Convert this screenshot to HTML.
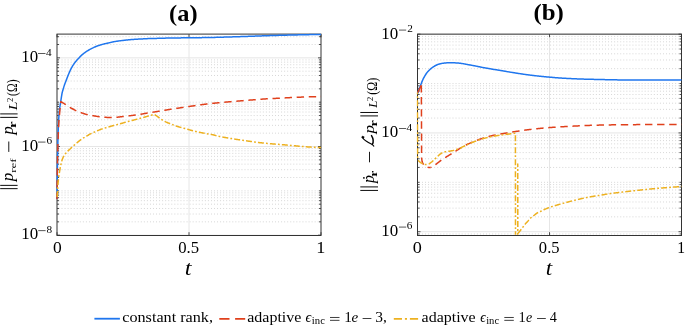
<!DOCTYPE html>
<html><head><meta charset="utf-8"><style>html,body{margin:0;padding:0;background:#fff;overflow:hidden}svg{display:block;will-change:transform}text{font-family:"Liberation Serif",serif;fill:#000}</style></head>
<body>
<svg width="685" height="325" viewBox="0 0 685 325">
<defs>
<clipPath id="ca"><rect x="56.0" y="33.3" width="266.0" height="202.89999999999998"/></clipPath>
<clipPath id="cb"><rect x="416.5" y="33.2" width="266.0" height="201.5"/></clipPath>
</defs>
<rect width="685" height="325" fill="#fff"/>
<line x1="57" y1="235.17" x2="321" y2="235.17" stroke="#e6e6e6" stroke-width="1"/>
<line x1="58.5" y1="221.83" x2="321" y2="221.83" stroke="#c8c8c8" stroke-width="0.8" stroke-dasharray="0.9 2.15"/>
<line x1="58.5" y1="214.02" x2="321" y2="214.02" stroke="#c8c8c8" stroke-width="0.8" stroke-dasharray="0.9 2.15"/>
<line x1="58.5" y1="208.48" x2="321" y2="208.48" stroke="#c8c8c8" stroke-width="0.8" stroke-dasharray="0.9 2.15"/>
<line x1="58.5" y1="204.18" x2="321" y2="204.18" stroke="#c8c8c8" stroke-width="0.8" stroke-dasharray="0.9 2.15"/>
<line x1="58.5" y1="200.67" x2="321" y2="200.67" stroke="#c8c8c8" stroke-width="0.8" stroke-dasharray="0.9 2.15"/>
<line x1="58.5" y1="197.71" x2="321" y2="197.71" stroke="#c8c8c8" stroke-width="0.8" stroke-dasharray="0.9 2.15"/>
<line x1="58.5" y1="195.14" x2="321" y2="195.14" stroke="#c8c8c8" stroke-width="0.8" stroke-dasharray="0.9 2.15"/>
<line x1="58.5" y1="192.87" x2="321" y2="192.87" stroke="#c8c8c8" stroke-width="0.8" stroke-dasharray="0.9 2.15"/>
<line x1="58.5" y1="190.84" x2="321" y2="190.84" stroke="#c8c8c8" stroke-width="0.8" stroke-dasharray="0.9 2.15"/>
<line x1="58.5" y1="177.5" x2="321" y2="177.5" stroke="#c8c8c8" stroke-width="0.8" stroke-dasharray="0.9 2.15"/>
<line x1="58.5" y1="169.69" x2="321" y2="169.69" stroke="#c8c8c8" stroke-width="0.8" stroke-dasharray="0.9 2.15"/>
<line x1="58.5" y1="164.15" x2="321" y2="164.15" stroke="#c8c8c8" stroke-width="0.8" stroke-dasharray="0.9 2.15"/>
<line x1="58.5" y1="159.85" x2="321" y2="159.85" stroke="#c8c8c8" stroke-width="0.8" stroke-dasharray="0.9 2.15"/>
<line x1="58.5" y1="156.34" x2="321" y2="156.34" stroke="#c8c8c8" stroke-width="0.8" stroke-dasharray="0.9 2.15"/>
<line x1="58.5" y1="153.38" x2="321" y2="153.38" stroke="#c8c8c8" stroke-width="0.8" stroke-dasharray="0.9 2.15"/>
<line x1="58.5" y1="150.81" x2="321" y2="150.81" stroke="#c8c8c8" stroke-width="0.8" stroke-dasharray="0.9 2.15"/>
<line x1="58.5" y1="148.54" x2="321" y2="148.54" stroke="#c8c8c8" stroke-width="0.8" stroke-dasharray="0.9 2.15"/>
<line x1="57" y1="146.51" x2="321" y2="146.51" stroke="#e6e6e6" stroke-width="1"/>
<line x1="58.5" y1="133.17" x2="321" y2="133.17" stroke="#c8c8c8" stroke-width="0.8" stroke-dasharray="0.9 2.15"/>
<line x1="58.5" y1="125.36" x2="321" y2="125.36" stroke="#c8c8c8" stroke-width="0.8" stroke-dasharray="0.9 2.15"/>
<line x1="58.5" y1="119.82" x2="321" y2="119.82" stroke="#c8c8c8" stroke-width="0.8" stroke-dasharray="0.9 2.15"/>
<line x1="58.5" y1="115.52" x2="321" y2="115.52" stroke="#c8c8c8" stroke-width="0.8" stroke-dasharray="0.9 2.15"/>
<line x1="58.5" y1="112.01" x2="321" y2="112.01" stroke="#c8c8c8" stroke-width="0.8" stroke-dasharray="0.9 2.15"/>
<line x1="58.5" y1="109.05" x2="321" y2="109.05" stroke="#c8c8c8" stroke-width="0.8" stroke-dasharray="0.9 2.15"/>
<line x1="58.5" y1="106.48" x2="321" y2="106.48" stroke="#c8c8c8" stroke-width="0.8" stroke-dasharray="0.9 2.15"/>
<line x1="58.5" y1="104.21" x2="321" y2="104.21" stroke="#c8c8c8" stroke-width="0.8" stroke-dasharray="0.9 2.15"/>
<line x1="58.5" y1="102.18" x2="321" y2="102.18" stroke="#c8c8c8" stroke-width="0.8" stroke-dasharray="0.9 2.15"/>
<line x1="58.5" y1="88.84" x2="321" y2="88.84" stroke="#c8c8c8" stroke-width="0.8" stroke-dasharray="0.9 2.15"/>
<line x1="58.5" y1="81.03" x2="321" y2="81.03" stroke="#c8c8c8" stroke-width="0.8" stroke-dasharray="0.9 2.15"/>
<line x1="58.5" y1="75.49" x2="321" y2="75.49" stroke="#c8c8c8" stroke-width="0.8" stroke-dasharray="0.9 2.15"/>
<line x1="58.5" y1="71.19" x2="321" y2="71.19" stroke="#c8c8c8" stroke-width="0.8" stroke-dasharray="0.9 2.15"/>
<line x1="58.5" y1="67.68" x2="321" y2="67.68" stroke="#c8c8c8" stroke-width="0.8" stroke-dasharray="0.9 2.15"/>
<line x1="58.5" y1="64.72" x2="321" y2="64.72" stroke="#c8c8c8" stroke-width="0.8" stroke-dasharray="0.9 2.15"/>
<line x1="58.5" y1="62.15" x2="321" y2="62.15" stroke="#c8c8c8" stroke-width="0.8" stroke-dasharray="0.9 2.15"/>
<line x1="58.5" y1="59.88" x2="321" y2="59.88" stroke="#c8c8c8" stroke-width="0.8" stroke-dasharray="0.9 2.15"/>
<line x1="57" y1="57.85" x2="321" y2="57.85" stroke="#e6e6e6" stroke-width="1"/>
<line x1="58.5" y1="44.51" x2="321" y2="44.51" stroke="#c8c8c8" stroke-width="0.8" stroke-dasharray="0.9 2.15"/>
<line x1="58.5" y1="36.7" x2="321" y2="36.7" stroke="#c8c8c8" stroke-width="0.8" stroke-dasharray="0.9 2.15"/>
<line x1="189" y1="34.3" x2="189" y2="235.2" stroke="#e6e6e6" stroke-width="1"/>
<line x1="57" y1="235.17" x2="60" y2="235.17" stroke="#262626" stroke-width="0.8"/>
<line x1="321" y1="235.17" x2="318" y2="235.17" stroke="#262626" stroke-width="0.8"/>
<line x1="57" y1="221.83" x2="59" y2="221.83" stroke="#262626" stroke-width="0.8"/>
<line x1="321" y1="221.83" x2="319" y2="221.83" stroke="#262626" stroke-width="0.8"/>
<line x1="57" y1="214.02" x2="59" y2="214.02" stroke="#262626" stroke-width="0.8"/>
<line x1="321" y1="214.02" x2="319" y2="214.02" stroke="#262626" stroke-width="0.8"/>
<line x1="57" y1="208.48" x2="59" y2="208.48" stroke="#262626" stroke-width="0.8"/>
<line x1="321" y1="208.48" x2="319" y2="208.48" stroke="#262626" stroke-width="0.8"/>
<line x1="57" y1="204.18" x2="59" y2="204.18" stroke="#262626" stroke-width="0.8"/>
<line x1="321" y1="204.18" x2="319" y2="204.18" stroke="#262626" stroke-width="0.8"/>
<line x1="57" y1="200.67" x2="59" y2="200.67" stroke="#262626" stroke-width="0.8"/>
<line x1="321" y1="200.67" x2="319" y2="200.67" stroke="#262626" stroke-width="0.8"/>
<line x1="57" y1="197.71" x2="59" y2="197.71" stroke="#262626" stroke-width="0.8"/>
<line x1="321" y1="197.71" x2="319" y2="197.71" stroke="#262626" stroke-width="0.8"/>
<line x1="57" y1="195.14" x2="59" y2="195.14" stroke="#262626" stroke-width="0.8"/>
<line x1="321" y1="195.14" x2="319" y2="195.14" stroke="#262626" stroke-width="0.8"/>
<line x1="57" y1="192.87" x2="59" y2="192.87" stroke="#262626" stroke-width="0.8"/>
<line x1="321" y1="192.87" x2="319" y2="192.87" stroke="#262626" stroke-width="0.8"/>
<line x1="57" y1="190.84" x2="59" y2="190.84" stroke="#262626" stroke-width="0.8"/>
<line x1="321" y1="190.84" x2="319" y2="190.84" stroke="#262626" stroke-width="0.8"/>
<line x1="57" y1="177.5" x2="59" y2="177.5" stroke="#262626" stroke-width="0.8"/>
<line x1="321" y1="177.5" x2="319" y2="177.5" stroke="#262626" stroke-width="0.8"/>
<line x1="57" y1="169.69" x2="59" y2="169.69" stroke="#262626" stroke-width="0.8"/>
<line x1="321" y1="169.69" x2="319" y2="169.69" stroke="#262626" stroke-width="0.8"/>
<line x1="57" y1="164.15" x2="59" y2="164.15" stroke="#262626" stroke-width="0.8"/>
<line x1="321" y1="164.15" x2="319" y2="164.15" stroke="#262626" stroke-width="0.8"/>
<line x1="57" y1="159.85" x2="59" y2="159.85" stroke="#262626" stroke-width="0.8"/>
<line x1="321" y1="159.85" x2="319" y2="159.85" stroke="#262626" stroke-width="0.8"/>
<line x1="57" y1="156.34" x2="59" y2="156.34" stroke="#262626" stroke-width="0.8"/>
<line x1="321" y1="156.34" x2="319" y2="156.34" stroke="#262626" stroke-width="0.8"/>
<line x1="57" y1="153.38" x2="59" y2="153.38" stroke="#262626" stroke-width="0.8"/>
<line x1="321" y1="153.38" x2="319" y2="153.38" stroke="#262626" stroke-width="0.8"/>
<line x1="57" y1="150.81" x2="59" y2="150.81" stroke="#262626" stroke-width="0.8"/>
<line x1="321" y1="150.81" x2="319" y2="150.81" stroke="#262626" stroke-width="0.8"/>
<line x1="57" y1="148.54" x2="59" y2="148.54" stroke="#262626" stroke-width="0.8"/>
<line x1="321" y1="148.54" x2="319" y2="148.54" stroke="#262626" stroke-width="0.8"/>
<line x1="57" y1="146.51" x2="60" y2="146.51" stroke="#262626" stroke-width="0.8"/>
<line x1="321" y1="146.51" x2="318" y2="146.51" stroke="#262626" stroke-width="0.8"/>
<line x1="57" y1="133.17" x2="59" y2="133.17" stroke="#262626" stroke-width="0.8"/>
<line x1="321" y1="133.17" x2="319" y2="133.17" stroke="#262626" stroke-width="0.8"/>
<line x1="57" y1="125.36" x2="59" y2="125.36" stroke="#262626" stroke-width="0.8"/>
<line x1="321" y1="125.36" x2="319" y2="125.36" stroke="#262626" stroke-width="0.8"/>
<line x1="57" y1="119.82" x2="59" y2="119.82" stroke="#262626" stroke-width="0.8"/>
<line x1="321" y1="119.82" x2="319" y2="119.82" stroke="#262626" stroke-width="0.8"/>
<line x1="57" y1="115.52" x2="59" y2="115.52" stroke="#262626" stroke-width="0.8"/>
<line x1="321" y1="115.52" x2="319" y2="115.52" stroke="#262626" stroke-width="0.8"/>
<line x1="57" y1="112.01" x2="59" y2="112.01" stroke="#262626" stroke-width="0.8"/>
<line x1="321" y1="112.01" x2="319" y2="112.01" stroke="#262626" stroke-width="0.8"/>
<line x1="57" y1="109.05" x2="59" y2="109.05" stroke="#262626" stroke-width="0.8"/>
<line x1="321" y1="109.05" x2="319" y2="109.05" stroke="#262626" stroke-width="0.8"/>
<line x1="57" y1="106.48" x2="59" y2="106.48" stroke="#262626" stroke-width="0.8"/>
<line x1="321" y1="106.48" x2="319" y2="106.48" stroke="#262626" stroke-width="0.8"/>
<line x1="57" y1="104.21" x2="59" y2="104.21" stroke="#262626" stroke-width="0.8"/>
<line x1="321" y1="104.21" x2="319" y2="104.21" stroke="#262626" stroke-width="0.8"/>
<line x1="57" y1="102.18" x2="59" y2="102.18" stroke="#262626" stroke-width="0.8"/>
<line x1="321" y1="102.18" x2="319" y2="102.18" stroke="#262626" stroke-width="0.8"/>
<line x1="57" y1="88.84" x2="59" y2="88.84" stroke="#262626" stroke-width="0.8"/>
<line x1="321" y1="88.84" x2="319" y2="88.84" stroke="#262626" stroke-width="0.8"/>
<line x1="57" y1="81.03" x2="59" y2="81.03" stroke="#262626" stroke-width="0.8"/>
<line x1="321" y1="81.03" x2="319" y2="81.03" stroke="#262626" stroke-width="0.8"/>
<line x1="57" y1="75.49" x2="59" y2="75.49" stroke="#262626" stroke-width="0.8"/>
<line x1="321" y1="75.49" x2="319" y2="75.49" stroke="#262626" stroke-width="0.8"/>
<line x1="57" y1="71.19" x2="59" y2="71.19" stroke="#262626" stroke-width="0.8"/>
<line x1="321" y1="71.19" x2="319" y2="71.19" stroke="#262626" stroke-width="0.8"/>
<line x1="57" y1="67.68" x2="59" y2="67.68" stroke="#262626" stroke-width="0.8"/>
<line x1="321" y1="67.68" x2="319" y2="67.68" stroke="#262626" stroke-width="0.8"/>
<line x1="57" y1="64.72" x2="59" y2="64.72" stroke="#262626" stroke-width="0.8"/>
<line x1="321" y1="64.72" x2="319" y2="64.72" stroke="#262626" stroke-width="0.8"/>
<line x1="57" y1="62.15" x2="59" y2="62.15" stroke="#262626" stroke-width="0.8"/>
<line x1="321" y1="62.15" x2="319" y2="62.15" stroke="#262626" stroke-width="0.8"/>
<line x1="57" y1="59.88" x2="59" y2="59.88" stroke="#262626" stroke-width="0.8"/>
<line x1="321" y1="59.88" x2="319" y2="59.88" stroke="#262626" stroke-width="0.8"/>
<line x1="57" y1="57.85" x2="60" y2="57.85" stroke="#262626" stroke-width="0.8"/>
<line x1="321" y1="57.85" x2="318" y2="57.85" stroke="#262626" stroke-width="0.8"/>
<line x1="57" y1="44.51" x2="59" y2="44.51" stroke="#262626" stroke-width="0.8"/>
<line x1="321" y1="44.51" x2="319" y2="44.51" stroke="#262626" stroke-width="0.8"/>
<line x1="57" y1="36.7" x2="59" y2="36.7" stroke="#262626" stroke-width="0.8"/>
<line x1="321" y1="36.7" x2="319" y2="36.7" stroke="#262626" stroke-width="0.8"/>
<line x1="57" y1="235.2" x2="57" y2="232.2" stroke="#262626" stroke-width="0.8"/>
<line x1="57" y1="34.3" x2="57" y2="37.3" stroke="#262626" stroke-width="0.8"/>
<line x1="189" y1="235.2" x2="189" y2="232.2" stroke="#262626" stroke-width="0.8"/>
<line x1="189" y1="34.3" x2="189" y2="37.3" stroke="#262626" stroke-width="0.8"/>
<line x1="321" y1="235.2" x2="321" y2="232.2" stroke="#262626" stroke-width="0.8"/>
<line x1="321" y1="34.3" x2="321" y2="37.3" stroke="#262626" stroke-width="0.8"/>
<rect x="57" y="34.1" width="264" height="201.4" fill="none" stroke="#333" stroke-width="1"/>
<line x1="419" y1="233.97" x2="681.5" y2="233.97" stroke="#c8c8c8" stroke-width="0.8" stroke-dasharray="0.9 2.15"/>
<line x1="417.5" y1="231.71" x2="681.5" y2="231.71" stroke="#e6e6e6" stroke-width="1"/>
<line x1="419" y1="216.84" x2="681.5" y2="216.84" stroke="#c8c8c8" stroke-width="0.8" stroke-dasharray="0.9 2.15"/>
<line x1="419" y1="208.14" x2="681.5" y2="208.14" stroke="#c8c8c8" stroke-width="0.8" stroke-dasharray="0.9 2.15"/>
<line x1="419" y1="201.97" x2="681.5" y2="201.97" stroke="#c8c8c8" stroke-width="0.8" stroke-dasharray="0.9 2.15"/>
<line x1="419" y1="197.19" x2="681.5" y2="197.19" stroke="#c8c8c8" stroke-width="0.8" stroke-dasharray="0.9 2.15"/>
<line x1="419" y1="193.28" x2="681.5" y2="193.28" stroke="#c8c8c8" stroke-width="0.8" stroke-dasharray="0.9 2.15"/>
<line x1="419" y1="189.97" x2="681.5" y2="189.97" stroke="#c8c8c8" stroke-width="0.8" stroke-dasharray="0.9 2.15"/>
<line x1="419" y1="187.11" x2="681.5" y2="187.11" stroke="#c8c8c8" stroke-width="0.8" stroke-dasharray="0.9 2.15"/>
<line x1="419" y1="184.58" x2="681.5" y2="184.58" stroke="#c8c8c8" stroke-width="0.8" stroke-dasharray="0.9 2.15"/>
<line x1="419" y1="182.32" x2="681.5" y2="182.32" stroke="#c8c8c8" stroke-width="0.8" stroke-dasharray="0.9 2.15"/>
<line x1="419" y1="167.45" x2="681.5" y2="167.45" stroke="#c8c8c8" stroke-width="0.8" stroke-dasharray="0.9 2.15"/>
<line x1="419" y1="158.75" x2="681.5" y2="158.75" stroke="#c8c8c8" stroke-width="0.8" stroke-dasharray="0.9 2.15"/>
<line x1="419" y1="152.58" x2="681.5" y2="152.58" stroke="#c8c8c8" stroke-width="0.8" stroke-dasharray="0.9 2.15"/>
<line x1="419" y1="147.8" x2="681.5" y2="147.8" stroke="#c8c8c8" stroke-width="0.8" stroke-dasharray="0.9 2.15"/>
<line x1="419" y1="143.89" x2="681.5" y2="143.89" stroke="#c8c8c8" stroke-width="0.8" stroke-dasharray="0.9 2.15"/>
<line x1="419" y1="140.58" x2="681.5" y2="140.58" stroke="#c8c8c8" stroke-width="0.8" stroke-dasharray="0.9 2.15"/>
<line x1="419" y1="137.72" x2="681.5" y2="137.72" stroke="#c8c8c8" stroke-width="0.8" stroke-dasharray="0.9 2.15"/>
<line x1="419" y1="135.19" x2="681.5" y2="135.19" stroke="#c8c8c8" stroke-width="0.8" stroke-dasharray="0.9 2.15"/>
<line x1="417.5" y1="132.93" x2="681.5" y2="132.93" stroke="#e6e6e6" stroke-width="1"/>
<line x1="419" y1="118.06" x2="681.5" y2="118.06" stroke="#c8c8c8" stroke-width="0.8" stroke-dasharray="0.9 2.15"/>
<line x1="419" y1="109.36" x2="681.5" y2="109.36" stroke="#c8c8c8" stroke-width="0.8" stroke-dasharray="0.9 2.15"/>
<line x1="419" y1="103.19" x2="681.5" y2="103.19" stroke="#c8c8c8" stroke-width="0.8" stroke-dasharray="0.9 2.15"/>
<line x1="419" y1="98.41" x2="681.5" y2="98.41" stroke="#c8c8c8" stroke-width="0.8" stroke-dasharray="0.9 2.15"/>
<line x1="419" y1="94.5" x2="681.5" y2="94.5" stroke="#c8c8c8" stroke-width="0.8" stroke-dasharray="0.9 2.15"/>
<line x1="419" y1="91.19" x2="681.5" y2="91.19" stroke="#c8c8c8" stroke-width="0.8" stroke-dasharray="0.9 2.15"/>
<line x1="419" y1="88.33" x2="681.5" y2="88.33" stroke="#c8c8c8" stroke-width="0.8" stroke-dasharray="0.9 2.15"/>
<line x1="419" y1="85.8" x2="681.5" y2="85.8" stroke="#c8c8c8" stroke-width="0.8" stroke-dasharray="0.9 2.15"/>
<line x1="419" y1="83.54" x2="681.5" y2="83.54" stroke="#c8c8c8" stroke-width="0.8" stroke-dasharray="0.9 2.15"/>
<line x1="419" y1="68.67" x2="681.5" y2="68.67" stroke="#c8c8c8" stroke-width="0.8" stroke-dasharray="0.9 2.15"/>
<line x1="419" y1="59.97" x2="681.5" y2="59.97" stroke="#c8c8c8" stroke-width="0.8" stroke-dasharray="0.9 2.15"/>
<line x1="419" y1="53.8" x2="681.5" y2="53.8" stroke="#c8c8c8" stroke-width="0.8" stroke-dasharray="0.9 2.15"/>
<line x1="419" y1="49.02" x2="681.5" y2="49.02" stroke="#c8c8c8" stroke-width="0.8" stroke-dasharray="0.9 2.15"/>
<line x1="419" y1="45.11" x2="681.5" y2="45.11" stroke="#c8c8c8" stroke-width="0.8" stroke-dasharray="0.9 2.15"/>
<line x1="419" y1="41.8" x2="681.5" y2="41.8" stroke="#c8c8c8" stroke-width="0.8" stroke-dasharray="0.9 2.15"/>
<line x1="419" y1="38.94" x2="681.5" y2="38.94" stroke="#c8c8c8" stroke-width="0.8" stroke-dasharray="0.9 2.15"/>
<line x1="419" y1="36.41" x2="681.5" y2="36.41" stroke="#c8c8c8" stroke-width="0.8" stroke-dasharray="0.9 2.15"/>
<line x1="417.5" y1="34.15" x2="681.5" y2="34.15" stroke="#e6e6e6" stroke-width="1"/>
<line x1="549.5" y1="34.2" x2="549.5" y2="235.2" stroke="#e6e6e6" stroke-width="1"/>
<line x1="417.5" y1="233.97" x2="419.5" y2="233.97" stroke="#262626" stroke-width="0.8"/>
<line x1="681.5" y1="233.97" x2="679.5" y2="233.97" stroke="#262626" stroke-width="0.8"/>
<line x1="417.5" y1="231.71" x2="420.5" y2="231.71" stroke="#262626" stroke-width="0.8"/>
<line x1="681.5" y1="231.71" x2="678.5" y2="231.71" stroke="#262626" stroke-width="0.8"/>
<line x1="417.5" y1="216.84" x2="419.5" y2="216.84" stroke="#262626" stroke-width="0.8"/>
<line x1="681.5" y1="216.84" x2="679.5" y2="216.84" stroke="#262626" stroke-width="0.8"/>
<line x1="417.5" y1="208.14" x2="419.5" y2="208.14" stroke="#262626" stroke-width="0.8"/>
<line x1="681.5" y1="208.14" x2="679.5" y2="208.14" stroke="#262626" stroke-width="0.8"/>
<line x1="417.5" y1="201.97" x2="419.5" y2="201.97" stroke="#262626" stroke-width="0.8"/>
<line x1="681.5" y1="201.97" x2="679.5" y2="201.97" stroke="#262626" stroke-width="0.8"/>
<line x1="417.5" y1="197.19" x2="419.5" y2="197.19" stroke="#262626" stroke-width="0.8"/>
<line x1="681.5" y1="197.19" x2="679.5" y2="197.19" stroke="#262626" stroke-width="0.8"/>
<line x1="417.5" y1="193.28" x2="419.5" y2="193.28" stroke="#262626" stroke-width="0.8"/>
<line x1="681.5" y1="193.28" x2="679.5" y2="193.28" stroke="#262626" stroke-width="0.8"/>
<line x1="417.5" y1="189.97" x2="419.5" y2="189.97" stroke="#262626" stroke-width="0.8"/>
<line x1="681.5" y1="189.97" x2="679.5" y2="189.97" stroke="#262626" stroke-width="0.8"/>
<line x1="417.5" y1="187.11" x2="419.5" y2="187.11" stroke="#262626" stroke-width="0.8"/>
<line x1="681.5" y1="187.11" x2="679.5" y2="187.11" stroke="#262626" stroke-width="0.8"/>
<line x1="417.5" y1="184.58" x2="419.5" y2="184.58" stroke="#262626" stroke-width="0.8"/>
<line x1="681.5" y1="184.58" x2="679.5" y2="184.58" stroke="#262626" stroke-width="0.8"/>
<line x1="417.5" y1="182.32" x2="419.5" y2="182.32" stroke="#262626" stroke-width="0.8"/>
<line x1="681.5" y1="182.32" x2="679.5" y2="182.32" stroke="#262626" stroke-width="0.8"/>
<line x1="417.5" y1="167.45" x2="419.5" y2="167.45" stroke="#262626" stroke-width="0.8"/>
<line x1="681.5" y1="167.45" x2="679.5" y2="167.45" stroke="#262626" stroke-width="0.8"/>
<line x1="417.5" y1="158.75" x2="419.5" y2="158.75" stroke="#262626" stroke-width="0.8"/>
<line x1="681.5" y1="158.75" x2="679.5" y2="158.75" stroke="#262626" stroke-width="0.8"/>
<line x1="417.5" y1="152.58" x2="419.5" y2="152.58" stroke="#262626" stroke-width="0.8"/>
<line x1="681.5" y1="152.58" x2="679.5" y2="152.58" stroke="#262626" stroke-width="0.8"/>
<line x1="417.5" y1="147.8" x2="419.5" y2="147.8" stroke="#262626" stroke-width="0.8"/>
<line x1="681.5" y1="147.8" x2="679.5" y2="147.8" stroke="#262626" stroke-width="0.8"/>
<line x1="417.5" y1="143.89" x2="419.5" y2="143.89" stroke="#262626" stroke-width="0.8"/>
<line x1="681.5" y1="143.89" x2="679.5" y2="143.89" stroke="#262626" stroke-width="0.8"/>
<line x1="417.5" y1="140.58" x2="419.5" y2="140.58" stroke="#262626" stroke-width="0.8"/>
<line x1="681.5" y1="140.58" x2="679.5" y2="140.58" stroke="#262626" stroke-width="0.8"/>
<line x1="417.5" y1="137.72" x2="419.5" y2="137.72" stroke="#262626" stroke-width="0.8"/>
<line x1="681.5" y1="137.72" x2="679.5" y2="137.72" stroke="#262626" stroke-width="0.8"/>
<line x1="417.5" y1="135.19" x2="419.5" y2="135.19" stroke="#262626" stroke-width="0.8"/>
<line x1="681.5" y1="135.19" x2="679.5" y2="135.19" stroke="#262626" stroke-width="0.8"/>
<line x1="417.5" y1="132.93" x2="420.5" y2="132.93" stroke="#262626" stroke-width="0.8"/>
<line x1="681.5" y1="132.93" x2="678.5" y2="132.93" stroke="#262626" stroke-width="0.8"/>
<line x1="417.5" y1="118.06" x2="419.5" y2="118.06" stroke="#262626" stroke-width="0.8"/>
<line x1="681.5" y1="118.06" x2="679.5" y2="118.06" stroke="#262626" stroke-width="0.8"/>
<line x1="417.5" y1="109.36" x2="419.5" y2="109.36" stroke="#262626" stroke-width="0.8"/>
<line x1="681.5" y1="109.36" x2="679.5" y2="109.36" stroke="#262626" stroke-width="0.8"/>
<line x1="417.5" y1="103.19" x2="419.5" y2="103.19" stroke="#262626" stroke-width="0.8"/>
<line x1="681.5" y1="103.19" x2="679.5" y2="103.19" stroke="#262626" stroke-width="0.8"/>
<line x1="417.5" y1="98.41" x2="419.5" y2="98.41" stroke="#262626" stroke-width="0.8"/>
<line x1="681.5" y1="98.41" x2="679.5" y2="98.41" stroke="#262626" stroke-width="0.8"/>
<line x1="417.5" y1="94.5" x2="419.5" y2="94.5" stroke="#262626" stroke-width="0.8"/>
<line x1="681.5" y1="94.5" x2="679.5" y2="94.5" stroke="#262626" stroke-width="0.8"/>
<line x1="417.5" y1="91.19" x2="419.5" y2="91.19" stroke="#262626" stroke-width="0.8"/>
<line x1="681.5" y1="91.19" x2="679.5" y2="91.19" stroke="#262626" stroke-width="0.8"/>
<line x1="417.5" y1="88.33" x2="419.5" y2="88.33" stroke="#262626" stroke-width="0.8"/>
<line x1="681.5" y1="88.33" x2="679.5" y2="88.33" stroke="#262626" stroke-width="0.8"/>
<line x1="417.5" y1="85.8" x2="419.5" y2="85.8" stroke="#262626" stroke-width="0.8"/>
<line x1="681.5" y1="85.8" x2="679.5" y2="85.8" stroke="#262626" stroke-width="0.8"/>
<line x1="417.5" y1="83.54" x2="419.5" y2="83.54" stroke="#262626" stroke-width="0.8"/>
<line x1="681.5" y1="83.54" x2="679.5" y2="83.54" stroke="#262626" stroke-width="0.8"/>
<line x1="417.5" y1="68.67" x2="419.5" y2="68.67" stroke="#262626" stroke-width="0.8"/>
<line x1="681.5" y1="68.67" x2="679.5" y2="68.67" stroke="#262626" stroke-width="0.8"/>
<line x1="417.5" y1="59.97" x2="419.5" y2="59.97" stroke="#262626" stroke-width="0.8"/>
<line x1="681.5" y1="59.97" x2="679.5" y2="59.97" stroke="#262626" stroke-width="0.8"/>
<line x1="417.5" y1="53.8" x2="419.5" y2="53.8" stroke="#262626" stroke-width="0.8"/>
<line x1="681.5" y1="53.8" x2="679.5" y2="53.8" stroke="#262626" stroke-width="0.8"/>
<line x1="417.5" y1="49.02" x2="419.5" y2="49.02" stroke="#262626" stroke-width="0.8"/>
<line x1="681.5" y1="49.02" x2="679.5" y2="49.02" stroke="#262626" stroke-width="0.8"/>
<line x1="417.5" y1="45.11" x2="419.5" y2="45.11" stroke="#262626" stroke-width="0.8"/>
<line x1="681.5" y1="45.11" x2="679.5" y2="45.11" stroke="#262626" stroke-width="0.8"/>
<line x1="417.5" y1="41.8" x2="419.5" y2="41.8" stroke="#262626" stroke-width="0.8"/>
<line x1="681.5" y1="41.8" x2="679.5" y2="41.8" stroke="#262626" stroke-width="0.8"/>
<line x1="417.5" y1="38.94" x2="419.5" y2="38.94" stroke="#262626" stroke-width="0.8"/>
<line x1="681.5" y1="38.94" x2="679.5" y2="38.94" stroke="#262626" stroke-width="0.8"/>
<line x1="417.5" y1="36.41" x2="419.5" y2="36.41" stroke="#262626" stroke-width="0.8"/>
<line x1="681.5" y1="36.41" x2="679.5" y2="36.41" stroke="#262626" stroke-width="0.8"/>
<line x1="417.5" y1="34.15" x2="420.5" y2="34.15" stroke="#262626" stroke-width="0.8"/>
<line x1="681.5" y1="34.15" x2="678.5" y2="34.15" stroke="#262626" stroke-width="0.8"/>
<line x1="417.5" y1="235.2" x2="417.5" y2="232.2" stroke="#262626" stroke-width="0.8"/>
<line x1="417.5" y1="34.2" x2="417.5" y2="37.2" stroke="#262626" stroke-width="0.8"/>
<line x1="549.5" y1="235.2" x2="549.5" y2="232.2" stroke="#262626" stroke-width="0.8"/>
<line x1="549.5" y1="34.2" x2="549.5" y2="37.2" stroke="#262626" stroke-width="0.8"/>
<line x1="681.5" y1="235.2" x2="681.5" y2="232.2" stroke="#262626" stroke-width="0.8"/>
<line x1="681.5" y1="34.2" x2="681.5" y2="37.2" stroke="#262626" stroke-width="0.8"/>
<rect x="417.5" y="34.15" width="264" height="201.35" fill="none" stroke="#333" stroke-width="1"/>
<path d="M57 199 L57.5 159.49 L58 137.02 L58.5 121.65 L59 115.28 L59.5 109.66 L59.99 106.09 L60.49 103.03 L60.99 99.93 L61.49 96.61 L61.99 93.54 L62.49 91.45 L62.99 89.8 L63.49 88.1 L63.99 86.38 L64.49 84.87 L64.98 83.56 L65.48 82.31 L65.98 81.01 L66.48 79.63 L66.98 78.25 L67.48 76.91 L67.98 75.65 L68.48 74.42 L68.98 73.24 L69.48 72.1 L69.98 71 L70.47 69.93 L70.97 68.91 L71.47 67.95 L71.97 67.04 L72.47 66.17 L72.97 65.33 L73.47 64.55 L73.97 63.81 L74.47 63.12 L74.97 62.46 L75.47 61.83 L75.96 61.22 L76.46 60.65 L76.96 60.11 L77.46 59.58 L77.96 59.05 L78.46 58.51 L78.96 57.96 L79.46 57.41 L79.96 56.86 L80.46 56.34 L80.95 55.84 L81.45 55.37 L81.95 54.92 L82.45 54.48 L82.95 54.06 L83.45 53.65 L83.95 53.26 L84.45 52.88 L84.95 52.52 L85.45 52.17 L85.95 51.83 L86.44 51.49 L86.94 51.17 L87.44 50.86 L87.94 50.56 L88.44 50.26 L88.94 49.98 L89.44 49.7 L89.94 49.43 L90.44 49.16 L90.94 48.91 L91.43 48.67 L91.93 48.42 L92.43 48.18 L92.93 47.93 L93.43 47.69 L93.93 47.43 L94.43 47.18 L94.93 46.94 L95.43 46.72 L95.93 46.51 L96.43 46.31 L96.92 46.12 L97.42 45.94 L97.92 45.76 L98.42 45.59 L98.92 45.43 L99.42 45.27 L99.92 45.12 L100.42 44.97 L100.92 44.83 L101.42 44.68 L101.91 44.54 L102.41 44.39 L102.91 44.25 L103.41 44.11 L103.91 43.97 L104.41 43.85 L104.91 43.73 L105.41 43.62 L105.91 43.51 L106.41 43.41 L106.91 43.31 L107.4 43.21 L107.9 43.1 L108.4 42.98 L108.9 42.87 L109.4 42.74 L109.9 42.62 L110.4 42.49 L110.9 42.36 L111.4 42.24 L111.9 42.12 L112.4 42.01 L112.89 41.9 L113.39 41.8 L113.89 41.71 L114.39 41.62 L114.89 41.54 L115.39 41.45 L115.89 41.38 L116.39 41.3 L116.89 41.22 L117.39 41.15 L117.88 41.08 L118.38 41.01 L118.88 40.94 L119.38 40.88 L119.88 40.81 L120.38 40.74 L120.88 40.68 L121.38 40.62 L121.88 40.56 L122.38 40.5 L122.88 40.44 L123.37 40.38 L123.87 40.33 L124.37 40.27 L124.87 40.21 L125.37 40.16 L125.87 40.1 L126.37 40.05 L126.87 39.99 L127.37 39.94 L127.87 39.89 L128.36 39.84 L128.86 39.79 L129.36 39.74 L129.86 39.69 L130.36 39.65 L130.86 39.6 L131.36 39.56 L131.86 39.52 L132.36 39.49 L132.86 39.45 L133.36 39.41 L133.85 39.38 L134.35 39.35 L134.85 39.31 L135.35 39.28 L135.85 39.25 L136.35 39.22 L136.85 39.19 L137.35 39.16 L137.85 39.14 L138.35 39.11 L138.84 39.08 L139.34 39.06 L139.84 39.04 L140.34 39.01 L140.84 38.99 L141.34 38.96 L141.84 38.94 L142.34 38.91 L142.84 38.89 L143.34 38.86 L143.84 38.83 L144.33 38.8 L144.83 38.78 L145.33 38.75 L145.83 38.72 L146.33 38.69 L146.83 38.67 L147.33 38.64 L147.83 38.62 L148.33 38.6 L148.83 38.59 L149.33 38.57 L149.82 38.55 L150.32 38.54 L150.82 38.52 L151.32 38.51 L151.82 38.5 L152.32 38.48 L152.82 38.47 L153.32 38.46 L153.82 38.45 L154.32 38.44 L154.81 38.43 L155.31 38.41 L155.81 38.4 L156.31 38.39 L156.81 38.38 L157.31 38.37 L157.81 38.36 L158.31 38.35 L158.81 38.33 L159.31 38.32 L159.81 38.31 L160.3 38.29 L160.8 38.28 L161.3 38.26 L161.8 38.25 L162.3 38.23 L162.8 38.21 L163.3 38.2 L163.8 38.18 L164.3 38.16 L164.8 38.14 L165.29 38.13 L165.79 38.11 L166.29 38.09 L166.79 38.08 L167.29 38.06 L167.79 38.05 L168.29 38.04 L168.79 38.02 L169.29 38.01 L169.79 38 L170.29 38 L170.78 37.99 L171.28 37.98 L171.78 37.97 L172.28 37.97 L172.78 37.96 L173.28 37.95 L173.78 37.95 L174.28 37.94 L174.78 37.93 L175.28 37.93 L175.78 37.92 L176.27 37.92 L176.77 37.91 L177.27 37.91 L177.77 37.9 L178.27 37.9 L178.77 37.89 L179.27 37.89 L179.77 37.89 L180.27 37.88 L180.77 37.88 L181.26 37.87 L181.76 37.87 L182.26 37.86 L182.76 37.86 L183.26 37.86 L183.76 37.85 L184.26 37.85 L184.76 37.84 L185.26 37.84 L185.76 37.83 L186.26 37.83 L186.75 37.82 L187.25 37.82 L187.75 37.81 L188.25 37.81 L188.75 37.8 L189.25 37.79 L189.75 37.79 L190.25 37.78 L190.75 37.78 L191.25 37.77 L191.74 37.76 L192.24 37.76 L192.74 37.75 L193.24 37.74 L193.74 37.74 L194.24 37.73 L194.74 37.73 L195.24 37.72 L195.74 37.71 L196.24 37.71 L196.74 37.7 L197.23 37.69 L197.73 37.69 L198.23 37.68 L198.73 37.67 L199.23 37.67 L199.73 37.66 L200.23 37.65 L200.73 37.65 L201.23 37.64 L201.73 37.63 L202.22 37.62 L202.72 37.62 L203.22 37.61 L203.72 37.6 L204.22 37.59 L204.72 37.59 L205.22 37.58 L205.72 37.57 L206.22 37.56 L206.72 37.55 L207.22 37.54 L207.71 37.54 L208.21 37.53 L208.71 37.52 L209.21 37.51 L209.71 37.5 L210.21 37.49 L210.71 37.48 L211.21 37.47 L211.71 37.46 L212.21 37.45 L212.71 37.44 L213.2 37.43 L213.7 37.41 L214.2 37.4 L214.7 37.39 L215.2 37.38 L215.7 37.37 L216.2 37.35 L216.7 37.34 L217.2 37.33 L217.7 37.31 L218.19 37.3 L218.69 37.28 L219.19 37.27 L219.69 37.26 L220.19 37.24 L220.69 37.23 L221.19 37.21 L221.69 37.2 L222.19 37.18 L222.69 37.17 L223.19 37.15 L223.68 37.14 L224.18 37.12 L224.68 37.11 L225.18 37.1 L225.68 37.08 L226.18 37.07 L226.68 37.05 L227.18 37.04 L227.68 37.02 L228.18 37.01 L228.67 36.99 L229.17 36.98 L229.67 36.96 L230.17 36.95 L230.67 36.93 L231.17 36.92 L231.67 36.9 L232.17 36.89 L232.67 36.87 L233.17 36.86 L233.67 36.84 L234.16 36.82 L234.66 36.81 L235.16 36.79 L235.66 36.78 L236.16 36.76 L236.66 36.74 L237.16 36.73 L237.66 36.71 L238.16 36.7 L238.66 36.68 L239.16 36.66 L239.65 36.65 L240.15 36.63 L240.65 36.61 L241.15 36.6 L241.65 36.58 L242.15 36.56 L242.65 36.55 L243.15 36.53 L243.65 36.51 L244.15 36.5 L244.64 36.48 L245.14 36.46 L245.64 36.45 L246.14 36.43 L246.64 36.41 L247.14 36.4 L247.64 36.38 L248.14 36.36 L248.64 36.35 L249.14 36.33 L249.64 36.31 L250.13 36.3 L250.63 36.28 L251.13 36.26 L251.63 36.25 L252.13 36.23 L252.63 36.21 L253.13 36.19 L253.63 36.18 L254.13 36.16 L254.63 36.14 L255.12 36.12 L255.62 36.11 L256.12 36.09 L256.62 36.07 L257.12 36.05 L257.62 36.03 L258.12 36.02 L258.62 36 L259.12 35.98 L259.62 35.96 L260.12 35.95 L260.61 35.93 L261.11 35.91 L261.61 35.89 L262.11 35.87 L262.61 35.86 L263.11 35.84 L263.61 35.82 L264.11 35.8 L264.61 35.79 L265.11 35.77 L265.6 35.75 L266.1 35.73 L266.6 35.72 L267.1 35.7 L267.6 35.68 L268.1 35.67 L268.6 35.65 L269.1 35.63 L269.6 35.62 L270.1 35.6 L270.6 35.59 L271.09 35.57 L271.59 35.55 L272.09 35.54 L272.59 35.52 L273.09 35.51 L273.59 35.49 L274.09 35.48 L274.59 35.47 L275.09 35.45 L275.59 35.44 L276.09 35.42 L276.58 35.41 L277.08 35.39 L277.58 35.38 L278.08 35.37 L278.58 35.35 L279.08 35.34 L279.58 35.33 L280.08 35.31 L280.58 35.3 L281.08 35.28 L281.57 35.27 L282.07 35.26 L282.57 35.25 L283.07 35.23 L283.57 35.22 L284.07 35.21 L284.57 35.19 L285.07 35.18 L285.57 35.17 L286.07 35.16 L286.57 35.14 L287.06 35.13 L287.56 35.12 L288.06 35.11 L288.56 35.09 L289.06 35.08 L289.56 35.07 L290.06 35.06 L290.56 35.04 L291.06 35.03 L291.56 35.02 L292.05 35.01 L292.55 35 L293.05 34.98 L293.55 34.97 L294.05 34.96 L294.55 34.95 L295.05 34.94 L295.55 34.93 L296.05 34.91 L296.55 34.9 L297.05 34.89 L297.54 34.88 L298.04 34.87 L298.54 34.86 L299.04 34.85 L299.54 34.84 L300.04 34.82 L300.54 34.81 L301.04 34.8 L301.54 34.79 L302.04 34.78 L302.53 34.77 L303.03 34.76 L303.53 34.75 L304.03 34.74 L304.53 34.73 L305.03 34.72 L305.53 34.7 L306.03 34.69 L306.53 34.68 L307.03 34.67 L307.53 34.66 L308.02 34.65 L308.52 34.64 L309.02 34.63 L309.52 34.62 L310.02 34.61 L310.52 34.6 L311.02 34.59 L311.52 34.58 L312.02 34.57 L312.52 34.56 L313.02 34.55 L313.51 34.54 L314.01 34.53 L314.51 34.52 L315.01 34.51 L315.51 34.5 L316.01 34.49 L316.51 34.48 L317.01 34.47 L317.51 34.46 L318.01 34.45 L318.5 34.45 L319 34.44 L319.5 34.43 L320 34.42 L320.5 34.41 L321 34.4" fill="none" stroke="#1f76ee" stroke-width="1.5" stroke-linejoin="round" clip-path="url(#ca)"/>
<path d="M57 199 L57.1 185 L57.4 165 L57.9 145 L58.4 130 L59 120 L60 109 L60.9 101.6 L61.4 101.91 L61.9 102.21 L62.4 102.52 L62.9 102.84 L63.4 103.15 L63.9 103.46 L64.39 103.77 L64.89 104.09 L65.39 104.41 L65.89 104.73 L66.39 105.06 L66.89 105.4 L67.39 105.76 L67.89 106.12 L68.39 106.47 L68.89 106.81 L69.39 107.13 L69.89 107.43 L70.39 107.7 L70.88 107.97 L71.38 108.23 L71.88 108.48 L72.38 108.74 L72.88 109 L73.38 109.27 L73.88 109.53 L74.38 109.8 L74.88 110.06 L75.38 110.32 L75.88 110.58 L76.38 110.82 L76.88 111.05 L77.37 111.28 L77.87 111.49 L78.37 111.69 L78.87 111.89 L79.37 112.08 L79.87 112.26 L80.37 112.44 L80.87 112.62 L81.37 112.8 L81.87 112.98 L82.37 113.16 L82.87 113.33 L83.37 113.5 L83.86 113.66 L84.36 113.81 L84.86 113.96 L85.36 114.1 L85.86 114.24 L86.36 114.37 L86.86 114.49 L87.36 114.61 L87.86 114.73 L88.36 114.83 L88.86 114.94 L89.36 115.04 L89.86 115.13 L90.35 115.22 L90.85 115.31 L91.35 115.4 L91.85 115.49 L92.35 115.57 L92.85 115.66 L93.35 115.75 L93.85 115.84 L94.35 115.93 L94.85 116.02 L95.35 116.11 L95.85 116.2 L96.35 116.28 L96.84 116.37 L97.34 116.45 L97.84 116.53 L98.34 116.6 L98.84 116.67 L99.34 116.74 L99.84 116.8 L100.34 116.87 L100.84 116.93 L101.34 116.99 L101.84 117.05 L102.34 117.1 L102.84 117.15 L103.33 117.2 L103.83 117.24 L104.33 117.27 L104.83 117.3 L105.33 117.32 L105.83 117.35 L106.33 117.37 L106.83 117.39 L107.33 117.41 L107.83 117.43 L108.33 117.45 L108.83 117.46 L109.33 117.47 L109.82 117.48 L110.32 117.49 L110.82 117.5 L111.32 117.5 L111.82 117.5 L112.32 117.49 L112.82 117.48 L113.32 117.45 L113.82 117.43 L114.32 117.4 L114.82 117.37 L115.32 117.33 L115.82 117.3 L116.31 117.26 L116.81 117.22 L117.31 117.18 L117.81 117.14 L118.31 117.09 L118.81 117.04 L119.31 116.98 L119.81 116.92 L120.31 116.86 L120.81 116.8 L121.31 116.73 L121.81 116.67 L122.31 116.61 L122.8 116.55 L123.3 116.49 L123.8 116.43 L124.3 116.38 L124.8 116.32 L125.3 116.27 L125.8 116.21 L126.3 116.16 L126.8 116.1 L127.3 116.04 L127.8 115.99 L128.3 115.93 L128.8 115.87 L129.29 115.81 L129.79 115.75 L130.29 115.69 L130.79 115.63 L131.29 115.56 L131.79 115.5 L132.29 115.44 L132.79 115.37 L133.29 115.3 L133.79 115.24 L134.29 115.17 L134.79 115.1 L135.29 115.03 L135.78 114.96 L136.28 114.89 L136.78 114.82 L137.28 114.75 L137.78 114.67 L138.28 114.6 L138.78 114.53 L139.28 114.45 L139.78 114.37 L140.28 114.3 L140.78 114.22 L141.28 114.14 L141.78 114.05 L142.27 113.97 L142.77 113.88 L143.27 113.79 L143.77 113.7 L144.27 113.6 L144.77 113.51 L145.27 113.42 L145.77 113.32 L146.27 113.23 L146.77 113.14 L147.27 113.06 L147.77 112.97 L148.27 112.89 L148.76 112.81 L149.26 112.73 L149.76 112.66 L150.26 112.58 L150.76 112.5 L151.26 112.43 L151.76 112.36 L152.26 112.28 L152.76 112.21 L153.26 112.13 L153.76 112.06 L154.26 111.99 L154.76 111.91 L155.25 111.83 L155.75 111.75 L156.25 111.68 L156.75 111.59 L157.25 111.51 L157.75 111.43 L158.25 111.35 L158.75 111.26 L159.25 111.18 L159.75 111.1 L160.25 111.01 L160.75 110.92 L161.25 110.84 L161.74 110.75 L162.24 110.67 L162.74 110.58 L163.24 110.5 L163.74 110.41 L164.24 110.32 L164.74 110.24 L165.24 110.15 L165.74 110.07 L166.24 109.99 L166.74 109.91 L167.24 109.82 L167.74 109.74 L168.23 109.66 L168.73 109.58 L169.23 109.5 L169.73 109.43 L170.23 109.35 L170.73 109.27 L171.23 109.19 L171.73 109.12 L172.23 109.04 L172.73 108.96 L173.23 108.89 L173.73 108.81 L174.23 108.74 L174.72 108.66 L175.22 108.59 L175.72 108.51 L176.22 108.44 L176.72 108.36 L177.22 108.29 L177.72 108.21 L178.22 108.14 L178.72 108.06 L179.22 107.99 L179.72 107.91 L180.22 107.84 L180.72 107.76 L181.21 107.69 L181.71 107.61 L182.21 107.53 L182.71 107.46 L183.21 107.38 L183.71 107.31 L184.21 107.23 L184.71 107.16 L185.21 107.08 L185.71 107.01 L186.21 106.93 L186.71 106.86 L187.21 106.78 L187.7 106.71 L188.2 106.63 L188.7 106.56 L189.2 106.48 L189.7 106.41 L190.2 106.34 L190.7 106.26 L191.2 106.19 L191.7 106.11 L192.2 106.04 L192.7 105.97 L193.2 105.89 L193.7 105.82 L194.2 105.75 L194.69 105.67 L195.19 105.6 L195.69 105.53 L196.19 105.45 L196.69 105.38 L197.19 105.3 L197.69 105.23 L198.19 105.16 L198.69 105.09 L199.19 105.02 L199.69 104.95 L200.19 104.88 L200.69 104.81 L201.18 104.74 L201.68 104.67 L202.18 104.61 L202.68 104.54 L203.18 104.48 L203.68 104.41 L204.18 104.35 L204.68 104.29 L205.18 104.23 L205.68 104.16 L206.18 104.1 L206.68 104.04 L207.18 103.98 L207.67 103.92 L208.17 103.86 L208.67 103.8 L209.17 103.75 L209.67 103.69 L210.17 103.63 L210.67 103.57 L211.17 103.52 L211.67 103.46 L212.17 103.41 L212.67 103.35 L213.17 103.3 L213.67 103.24 L214.16 103.19 L214.66 103.14 L215.16 103.09 L215.66 103.03 L216.16 102.98 L216.66 102.93 L217.16 102.88 L217.66 102.83 L218.16 102.79 L218.66 102.74 L219.16 102.69 L219.66 102.64 L220.16 102.6 L220.65 102.55 L221.15 102.5 L221.65 102.46 L222.15 102.41 L222.65 102.37 L223.15 102.32 L223.65 102.28 L224.15 102.24 L224.65 102.19 L225.15 102.15 L225.65 102.11 L226.15 102.06 L226.65 102.02 L227.14 101.97 L227.64 101.93 L228.14 101.89 L228.64 101.84 L229.14 101.8 L229.64 101.76 L230.14 101.72 L230.64 101.67 L231.14 101.63 L231.64 101.59 L232.14 101.55 L232.64 101.51 L233.14 101.46 L233.63 101.42 L234.13 101.38 L234.63 101.34 L235.13 101.3 L235.63 101.26 L236.13 101.22 L236.63 101.18 L237.13 101.14 L237.63 101.09 L238.13 101.05 L238.63 101.01 L239.13 100.97 L239.63 100.93 L240.12 100.89 L240.62 100.85 L241.12 100.81 L241.62 100.77 L242.12 100.73 L242.62 100.68 L243.12 100.64 L243.62 100.6 L244.12 100.56 L244.62 100.52 L245.12 100.48 L245.62 100.44 L246.12 100.4 L246.61 100.36 L247.11 100.32 L247.61 100.28 L248.11 100.24 L248.61 100.2 L249.11 100.15 L249.61 100.11 L250.11 100.07 L250.61 100.03 L251.11 99.99 L251.61 99.95 L252.11 99.92 L252.61 99.88 L253.1 99.84 L253.6 99.8 L254.1 99.76 L254.6 99.71 L255.1 99.67 L255.6 99.63 L256.1 99.59 L256.6 99.55 L257.1 99.51 L257.6 99.47 L258.1 99.43 L258.6 99.39 L259.1 99.35 L259.59 99.31 L260.09 99.27 L260.59 99.24 L261.09 99.2 L261.59 99.16 L262.09 99.13 L262.59 99.09 L263.09 99.06 L263.59 99.03 L264.09 98.99 L264.59 98.96 L265.09 98.93 L265.59 98.9 L266.08 98.87 L266.58 98.85 L267.08 98.82 L267.58 98.79 L268.08 98.76 L268.58 98.74 L269.08 98.71 L269.58 98.69 L270.08 98.66 L270.58 98.64 L271.08 98.61 L271.58 98.59 L272.08 98.56 L272.57 98.54 L273.07 98.51 L273.57 98.49 L274.07 98.46 L274.57 98.43 L275.07 98.41 L275.57 98.38 L276.07 98.36 L276.57 98.33 L277.07 98.3 L277.57 98.28 L278.07 98.25 L278.57 98.22 L279.06 98.2 L279.56 98.17 L280.06 98.14 L280.56 98.12 L281.06 98.09 L281.56 98.06 L282.06 98.03 L282.56 98.01 L283.06 97.98 L283.56 97.95 L284.06 97.93 L284.56 97.9 L285.06 97.88 L285.55 97.85 L286.05 97.82 L286.55 97.8 L287.05 97.77 L287.55 97.75 L288.05 97.72 L288.55 97.7 L289.05 97.67 L289.55 97.65 L290.05 97.62 L290.55 97.6 L291.05 97.58 L291.55 97.55 L292.04 97.53 L292.54 97.5 L293.04 97.48 L293.54 97.45 L294.04 97.43 L294.54 97.41 L295.04 97.38 L295.54 97.36 L296.04 97.34 L296.54 97.32 L297.04 97.29 L297.54 97.27 L298.04 97.25 L298.53 97.23 L299.03 97.21 L299.53 97.19 L300.03 97.17 L300.53 97.15 L301.03 97.13 L301.53 97.11 L302.03 97.09 L302.53 97.07 L303.03 97.06 L303.53 97.04 L304.03 97.02 L304.53 97 L305.02 96.99 L305.52 96.97 L306.02 96.95 L306.52 96.94 L307.02 96.92 L307.52 96.91 L308.02 96.89 L308.52 96.87 L309.02 96.86 L309.52 96.84 L310.02 96.83 L310.52 96.81 L311.02 96.8 L311.51 96.78 L312.01 96.77 L312.51 96.75 L313.01 96.73 L313.51 96.72 L314.01 96.7 L314.51 96.69 L315.01 96.67 L315.51 96.66 L316.01 96.64 L316.51 96.63 L317.01 96.61 L317.51 96.6 L318 96.58 L318.5 96.57 L319 96.56 L319.5 96.54 L320 96.53 L320.5 96.51 L321 96.5" fill="none" stroke="#e0401c" stroke-width="1.5" stroke-linejoin="round" stroke-dasharray="7.4 4.7" stroke-dashoffset="0.8" clip-path="url(#ca)"/>
<path d="M57.1 199 L57.6 190.03 L58.1 182.78 L58.59 177.76 L59.09 174.33 L59.59 171.44 L60.09 168.61 L60.59 166.09 L61.08 163.87 L61.58 161.88 L62.08 160.06 L62.58 158.64 L63.08 157.48 L63.57 156.47 L64.07 155.61 L64.57 154.85 L65.07 154.18 L65.57 153.57 L66.06 153.01 L66.56 152.45 L67.06 151.91 L67.56 151.38 L68.05 150.88 L68.55 150.39 L69.05 149.91 L69.55 149.43 L70.05 148.95 L70.54 148.45 L71.04 147.94 L71.54 147.43 L72.04 146.95 L72.54 146.5 L73.03 146.09 L73.53 145.69 L74.03 145.31 L74.53 144.92 L75.03 144.52 L75.52 144.11 L76.02 143.68 L76.52 143.25 L77.02 142.8 L77.52 142.36 L78.01 141.92 L78.51 141.49 L79.01 141.07 L79.51 140.67 L80.01 140.29 L80.5 139.91 L81 139.55 L81.5 139.19 L82 138.85 L82.5 138.53 L82.99 138.22 L83.49 137.94 L83.99 137.66 L84.49 137.4 L84.99 137.12 L85.48 136.84 L85.98 136.54 L86.48 136.23 L86.98 135.92 L87.47 135.61 L87.97 135.3 L88.47 135 L88.97 134.7 L89.47 134.41 L89.96 134.13 L90.46 133.87 L90.96 133.62 L91.46 133.38 L91.96 133.14 L92.45 132.91 L92.95 132.69 L93.45 132.47 L93.95 132.26 L94.45 132.05 L94.94 131.83 L95.44 131.62 L95.94 131.41 L96.44 131.2 L96.94 130.98 L97.43 130.77 L97.93 130.55 L98.43 130.33 L98.93 130.12 L99.43 129.91 L99.92 129.7 L100.42 129.5 L100.92 129.3 L101.42 129.11 L101.92 128.93 L102.41 128.76 L102.91 128.6 L103.41 128.44 L103.91 128.29 L104.41 128.14 L104.9 128 L105.4 127.86 L105.9 127.73 L106.4 127.59 L106.89 127.45 L107.39 127.32 L107.89 127.18 L108.39 127.03 L108.89 126.89 L109.38 126.74 L109.88 126.59 L110.38 126.44 L110.88 126.29 L111.38 126.14 L111.87 125.99 L112.37 125.84 L112.87 125.69 L113.37 125.55 L113.87 125.41 L114.36 125.27 L114.86 125.13 L115.36 125 L115.86 124.87 L116.36 124.74 L116.85 124.61 L117.35 124.49 L117.85 124.36 L118.35 124.24 L118.85 124.11 L119.34 123.99 L119.84 123.86 L120.34 123.73 L120.84 123.59 L121.34 123.45 L121.83 123.31 L122.33 123.16 L122.83 123.01 L123.33 122.86 L123.83 122.71 L124.32 122.56 L124.82 122.4 L125.32 122.26 L125.82 122.11 L126.31 121.96 L126.81 121.82 L127.31 121.69 L127.81 121.55 L128.31 121.42 L128.8 121.29 L129.3 121.17 L129.8 121.04 L130.3 120.91 L130.8 120.79 L131.29 120.66 L131.79 120.54 L132.29 120.41 L132.79 120.28 L133.29 120.15 L133.78 120.02 L134.28 119.89 L134.78 119.76 L135.28 119.63 L135.78 119.5 L136.27 119.37 L136.77 119.24 L137.27 119.11 L137.77 118.98 L138.27 118.85 L138.76 118.72 L139.26 118.58 L139.76 118.45 L140.26 118.32 L140.76 118.18 L141.25 118.05 L141.75 117.92 L142.25 117.78 L142.75 117.64 L143.25 117.51 L143.74 117.37 L144.24 117.23 L144.74 117.09 L145.24 116.95 L145.73 116.8 L146.23 116.65 L146.73 116.5 L147.23 116.34 L147.73 116.19 L148.22 116.03 L148.72 115.88 L149.22 115.73 L149.72 115.58 L150.22 115.44 L150.71 115.3 L151.21 115.17 L151.71 115.03 L152.21 114.9 L152.71 114.77 L153.2 114.65 L153.7 114.52 L154.2 114.4 L154.7 114.69 L155.2 115 L155.7 115.31 L156.2 115.63 L156.7 115.96 L157.2 116.3 L157.7 116.66 L158.2 117.04 L158.69 117.43 L159.19 117.83 L159.69 118.22 L160.19 118.6 L160.69 118.96 L161.19 119.29 L161.69 119.61 L162.19 119.92 L162.69 120.22 L163.19 120.52 L163.69 120.8 L164.19 121.08 L164.69 121.34 L165.19 121.6 L165.69 121.85 L166.19 122.08 L166.69 122.31 L167.18 122.52 L167.68 122.73 L168.18 122.93 L168.68 123.13 L169.18 123.32 L169.68 123.51 L170.18 123.7 L170.68 123.89 L171.18 124.08 L171.68 124.27 L172.18 124.47 L172.68 124.67 L173.18 124.87 L173.68 125.08 L174.18 125.28 L174.68 125.48 L175.17 125.68 L175.67 125.87 L176.17 126.05 L176.67 126.22 L177.17 126.39 L177.67 126.54 L178.17 126.69 L178.67 126.83 L179.17 126.97 L179.67 127.11 L180.17 127.25 L180.67 127.38 L181.17 127.52 L181.67 127.65 L182.17 127.78 L182.67 127.91 L183.17 128.04 L183.66 128.17 L184.16 128.3 L184.66 128.44 L185.16 128.57 L185.66 128.71 L186.16 128.85 L186.66 129 L187.16 129.14 L187.66 129.29 L188.16 129.44 L188.66 129.59 L189.16 129.73 L189.66 129.88 L190.16 130.02 L190.66 130.16 L191.16 130.3 L191.66 130.43 L192.15 130.56 L192.65 130.69 L193.15 130.81 L193.65 130.94 L194.15 131.06 L194.65 131.17 L195.15 131.29 L195.65 131.41 L196.15 131.52 L196.65 131.63 L197.15 131.74 L197.65 131.85 L198.15 131.96 L198.65 132.07 L199.15 132.18 L199.65 132.29 L200.14 132.4 L200.64 132.5 L201.14 132.61 L201.64 132.72 L202.14 132.82 L202.64 132.93 L203.14 133.03 L203.64 133.13 L204.14 133.23 L204.64 133.33 L205.14 133.43 L205.64 133.53 L206.14 133.62 L206.64 133.72 L207.14 133.81 L207.64 133.89 L208.14 133.97 L208.63 134.05 L209.13 134.13 L209.63 134.2 L210.13 134.28 L210.63 134.36 L211.13 134.44 L211.63 134.53 L212.13 134.63 L212.63 134.73 L213.13 134.84 L213.63 134.96 L214.13 135.08 L214.63 135.21 L215.13 135.35 L215.63 135.48 L216.13 135.61 L216.63 135.75 L217.12 135.88 L217.62 136.01 L218.12 136.13 L218.62 136.25 L219.12 136.36 L219.62 136.47 L220.12 136.57 L220.62 136.67 L221.12 136.77 L221.62 136.87 L222.12 136.96 L222.62 137.06 L223.12 137.15 L223.62 137.24 L224.12 137.34 L224.62 137.43 L225.11 137.51 L225.61 137.6 L226.11 137.69 L226.61 137.78 L227.11 137.86 L227.61 137.94 L228.11 138.03 L228.61 138.11 L229.11 138.19 L229.61 138.28 L230.11 138.36 L230.61 138.44 L231.11 138.52 L231.61 138.6 L232.11 138.68 L232.61 138.76 L233.11 138.84 L233.6 138.92 L234.1 139 L234.6 139.08 L235.1 139.16 L235.6 139.24 L236.1 139.32 L236.6 139.39 L237.1 139.47 L237.6 139.55 L238.1 139.62 L238.6 139.7 L239.1 139.77 L239.6 139.85 L240.1 139.92 L240.6 140 L241.1 140.07 L241.6 140.14 L242.09 140.21 L242.59 140.29 L243.09 140.36 L243.59 140.43 L244.09 140.5 L244.59 140.57 L245.09 140.65 L245.59 140.72 L246.09 140.79 L246.59 140.86 L247.09 140.93 L247.59 141 L248.09 141.07 L248.59 141.14 L249.09 141.21 L249.59 141.28 L250.09 141.35 L250.58 141.43 L251.08 141.5 L251.58 141.57 L252.08 141.64 L252.58 141.72 L253.08 141.79 L253.58 141.86 L254.08 141.93 L254.58 142 L255.08 142.07 L255.58 142.14 L256.08 142.21 L256.58 142.28 L257.08 142.34 L257.58 142.41 L258.08 142.47 L258.57 142.53 L259.07 142.59 L259.57 142.65 L260.07 142.71 L260.57 142.76 L261.07 142.82 L261.57 142.87 L262.07 142.92 L262.57 142.97 L263.07 143.02 L263.57 143.07 L264.07 143.12 L264.57 143.17 L265.07 143.22 L265.57 143.26 L266.07 143.31 L266.57 143.35 L267.06 143.4 L267.56 143.44 L268.06 143.49 L268.56 143.53 L269.06 143.58 L269.56 143.62 L270.06 143.66 L270.56 143.71 L271.06 143.75 L271.56 143.8 L272.06 143.84 L272.56 143.88 L273.06 143.93 L273.56 143.97 L274.06 144.01 L274.56 144.05 L275.06 144.09 L275.55 144.13 L276.05 144.17 L276.55 144.21 L277.05 144.25 L277.55 144.29 L278.05 144.33 L278.55 144.37 L279.05 144.41 L279.55 144.45 L280.05 144.49 L280.55 144.53 L281.05 144.57 L281.55 144.61 L282.05 144.65 L282.55 144.69 L283.05 144.73 L283.54 144.78 L284.04 144.82 L284.54 144.86 L285.04 144.9 L285.54 144.95 L286.04 144.99 L286.54 145.04 L287.04 145.08 L287.54 145.13 L288.04 145.17 L288.54 145.22 L289.04 145.27 L289.54 145.31 L290.04 145.36 L290.54 145.41 L291.04 145.45 L291.54 145.5 L292.03 145.55 L292.53 145.59 L293.03 145.64 L293.53 145.69 L294.03 145.73 L294.53 145.78 L295.03 145.82 L295.53 145.87 L296.03 145.91 L296.53 145.96 L297.03 146 L297.53 146.05 L298.03 146.09 L298.53 146.14 L299.03 146.18 L299.53 146.23 L300.03 146.27 L300.52 146.32 L301.02 146.36 L301.52 146.41 L302.02 146.45 L302.52 146.5 L303.02 146.54 L303.52 146.58 L304.02 146.63 L304.52 146.67 L305.02 146.71 L305.52 146.75 L306.02 146.79 L306.52 146.83 L307.02 146.86 L307.52 146.9 L308.02 146.94 L308.51 146.97 L309.01 147 L309.51 147.03 L310.01 147.06 L310.51 147.09 L311.01 147.12 L311.51 147.15 L312.01 147.18 L312.51 147.21 L313.01 147.24 L313.51 147.27 L314.01 147.29 L314.51 147.32 L315.01 147.34 L315.51 147.37 L316.01 147.39 L316.51 147.42 L317 147.44 L317.5 147.46 L318 147.49 L318.5 147.51 L319 147.53 L319.5 147.55 L320 147.57 L320.5 147.58 L321 147.6" fill="none" stroke="#edb120" stroke-width="1.5" stroke-linejoin="round" stroke-dasharray="6 2.1 1.8 2.1" stroke-dashoffset="10.02" clip-path="url(#ca)"/>
<path d="M417.7 93.4 L418.2 92.04 L418.7 90.67 L419.2 89.28 L419.7 87.87 L420.2 86.43 L420.7 85.02 L421.2 83.68 L421.7 82.37 L422.2 81.13 L422.7 79.99 L423.2 78.94 L423.7 77.96 L424.2 77.03 L424.69 76.15 L425.19 75.31 L425.69 74.5 L426.19 73.74 L426.69 73.03 L427.19 72.39 L427.69 71.79 L428.19 71.24 L428.69 70.71 L429.19 70.21 L429.69 69.74 L430.19 69.28 L430.69 68.85 L431.19 68.43 L431.69 68.02 L432.19 67.64 L432.69 67.27 L433.19 66.93 L433.69 66.61 L434.19 66.31 L434.69 66.01 L435.19 65.73 L435.69 65.46 L436.19 65.2 L436.69 64.96 L437.19 64.74 L437.68 64.55 L438.18 64.37 L438.68 64.21 L439.18 64.06 L439.68 63.93 L440.18 63.79 L440.68 63.67 L441.18 63.56 L441.68 63.46 L442.18 63.37 L442.68 63.29 L443.18 63.21 L443.68 63.14 L444.18 63.07 L444.68 63.01 L445.18 62.96 L445.68 62.92 L446.18 62.89 L446.68 62.86 L447.18 62.84 L447.68 62.82 L448.18 62.81 L448.68 62.8 L449.18 62.8 L449.68 62.8 L450.18 62.8 L450.68 62.8 L451.17 62.8 L451.67 62.8 L452.17 62.8 L452.67 62.8 L453.17 62.8 L453.67 62.81 L454.17 62.82 L454.67 62.83 L455.17 62.86 L455.67 62.88 L456.17 62.91 L456.67 62.95 L457.17 62.98 L457.67 63.01 L458.17 63.05 L458.67 63.1 L459.17 63.15 L459.67 63.21 L460.17 63.27 L460.67 63.33 L461.17 63.4 L461.67 63.47 L462.17 63.54 L462.67 63.62 L463.17 63.7 L463.67 63.79 L464.16 63.89 L464.66 63.99 L465.16 64.08 L465.66 64.18 L466.16 64.27 L466.66 64.37 L467.16 64.46 L467.66 64.55 L468.16 64.65 L468.66 64.74 L469.16 64.83 L469.66 64.93 L470.16 65.02 L470.66 65.11 L471.16 65.2 L471.66 65.29 L472.16 65.38 L472.66 65.47 L473.16 65.56 L473.66 65.65 L474.16 65.74 L474.66 65.83 L475.16 65.93 L475.66 66.03 L476.16 66.13 L476.66 66.23 L477.15 66.33 L477.65 66.44 L478.15 66.54 L478.65 66.65 L479.15 66.75 L479.65 66.85 L480.15 66.96 L480.65 67.06 L481.15 67.17 L481.65 67.27 L482.15 67.38 L482.65 67.48 L483.15 67.58 L483.65 67.67 L484.15 67.76 L484.65 67.84 L485.15 67.92 L485.65 68 L486.15 68.08 L486.65 68.15 L487.15 68.23 L487.65 68.31 L488.15 68.39 L488.65 68.48 L489.15 68.57 L489.65 68.66 L490.15 68.76 L490.64 68.86 L491.14 68.95 L491.64 69.05 L492.14 69.14 L492.64 69.22 L493.14 69.31 L493.64 69.39 L494.14 69.47 L494.64 69.55 L495.14 69.62 L495.64 69.7 L496.14 69.78 L496.64 69.86 L497.14 69.94 L497.64 70.02 L498.14 70.1 L498.64 70.18 L499.14 70.26 L499.64 70.34 L500.14 70.42 L500.64 70.51 L501.14 70.59 L501.64 70.67 L502.14 70.76 L502.64 70.84 L503.14 70.93 L503.63 71.02 L504.13 71.1 L504.63 71.19 L505.13 71.28 L505.63 71.36 L506.13 71.45 L506.63 71.53 L507.13 71.62 L507.63 71.7 L508.13 71.79 L508.63 71.87 L509.13 71.95 L509.63 72.04 L510.13 72.12 L510.63 72.2 L511.13 72.28 L511.63 72.37 L512.13 72.45 L512.63 72.53 L513.13 72.61 L513.63 72.69 L514.13 72.77 L514.63 72.85 L515.13 72.93 L515.63 73.01 L516.13 73.09 L516.62 73.16 L517.12 73.24 L517.62 73.32 L518.12 73.4 L518.62 73.47 L519.12 73.55 L519.62 73.63 L520.12 73.7 L520.62 73.78 L521.12 73.85 L521.62 73.93 L522.12 74 L522.62 74.08 L523.12 74.15 L523.62 74.22 L524.12 74.29 L524.62 74.37 L525.12 74.44 L525.62 74.51 L526.12 74.58 L526.62 74.64 L527.12 74.71 L527.62 74.78 L528.12 74.84 L528.62 74.91 L529.12 74.98 L529.62 75.04 L530.11 75.11 L530.61 75.17 L531.11 75.23 L531.61 75.3 L532.11 75.36 L532.61 75.42 L533.11 75.48 L533.61 75.54 L534.11 75.6 L534.61 75.66 L535.11 75.71 L535.61 75.77 L536.11 75.82 L536.61 75.88 L537.11 75.93 L537.61 75.98 L538.11 76.03 L538.61 76.09 L539.11 76.14 L539.61 76.19 L540.11 76.24 L540.61 76.29 L541.11 76.34 L541.61 76.38 L542.11 76.43 L542.61 76.48 L543.1 76.53 L543.6 76.58 L544.1 76.63 L544.6 76.68 L545.1 76.73 L545.6 76.78 L546.1 76.83 L546.6 76.88 L547.1 76.92 L547.6 76.97 L548.1 77.02 L548.6 77.06 L549.1 77.11 L549.6 77.15 L550.1 77.2 L550.6 77.24 L551.1 77.29 L551.6 77.33 L552.1 77.37 L552.6 77.42 L553.1 77.46 L553.6 77.5 L554.1 77.55 L554.6 77.59 L555.1 77.63 L555.6 77.67 L556.1 77.71 L556.59 77.75 L557.09 77.79 L557.59 77.83 L558.09 77.87 L558.59 77.9 L559.09 77.94 L559.59 77.97 L560.09 78.01 L560.59 78.04 L561.09 78.07 L561.59 78.1 L562.09 78.13 L562.59 78.16 L563.09 78.19 L563.59 78.22 L564.09 78.25 L564.59 78.28 L565.09 78.31 L565.59 78.33 L566.09 78.36 L566.59 78.39 L567.09 78.41 L567.59 78.44 L568.09 78.46 L568.59 78.49 L569.09 78.51 L569.58 78.54 L570.08 78.56 L570.58 78.59 L571.08 78.61 L571.58 78.64 L572.08 78.66 L572.58 78.69 L573.08 78.71 L573.58 78.73 L574.08 78.76 L574.58 78.78 L575.08 78.8 L575.58 78.82 L576.08 78.84 L576.58 78.86 L577.08 78.88 L577.58 78.9 L578.08 78.92 L578.58 78.94 L579.08 78.96 L579.58 78.98 L580.08 79 L580.58 79.02 L581.08 79.03 L581.58 79.05 L582.08 79.07 L582.58 79.09 L583.07 79.1 L583.57 79.12 L584.07 79.13 L584.57 79.15 L585.07 79.16 L585.57 79.18 L586.07 79.19 L586.57 79.21 L587.07 79.22 L587.57 79.23 L588.07 79.25 L588.57 79.26 L589.07 79.27 L589.57 79.28 L590.07 79.29 L590.57 79.3 L591.07 79.31 L591.57 79.32 L592.07 79.34 L592.57 79.35 L593.07 79.36 L593.57 79.37 L594.07 79.38 L594.57 79.39 L595.07 79.4 L595.57 79.41 L596.06 79.42 L596.56 79.44 L597.06 79.45 L597.56 79.46 L598.06 79.47 L598.56 79.48 L599.06 79.49 L599.56 79.5 L600.06 79.51 L600.56 79.53 L601.06 79.54 L601.56 79.55 L602.06 79.56 L602.56 79.57 L603.06 79.58 L603.56 79.59 L604.06 79.61 L604.56 79.62 L605.06 79.63 L605.56 79.64 L606.06 79.65 L606.56 79.67 L607.06 79.68 L607.56 79.69 L608.06 79.7 L608.56 79.72 L609.05 79.73 L609.55 79.74 L610.05 79.75 L610.55 79.76 L611.05 79.77 L611.55 79.78 L612.05 79.79 L612.55 79.8 L613.05 79.81 L613.55 79.82 L614.05 79.83 L614.55 79.83 L615.05 79.84 L615.55 79.85 L616.05 79.86 L616.55 79.86 L617.05 79.87 L617.55 79.88 L618.05 79.88 L618.55 79.89 L619.05 79.89 L619.55 79.9 L620.05 79.9 L620.55 79.9 L621.05 79.91 L621.55 79.91 L622.05 79.91 L622.54 79.91 L623.04 79.92 L623.54 79.92 L624.04 79.92 L624.54 79.93 L625.04 79.93 L625.54 79.93 L626.04 79.93 L626.54 79.94 L627.04 79.94 L627.54 79.94 L628.04 79.94 L628.54 79.95 L629.04 79.95 L629.54 79.95 L630.04 79.95 L630.54 79.96 L631.04 79.96 L631.54 79.96 L632.04 79.96 L632.54 79.96 L633.04 79.97 L633.54 79.97 L634.04 79.97 L634.54 79.97 L635.04 79.97 L635.53 79.97 L636.03 79.98 L636.53 79.98 L637.03 79.98 L637.53 79.98 L638.03 79.98 L638.53 79.98 L639.03 79.99 L639.53 79.99 L640.03 79.99 L640.53 79.99 L641.03 79.99 L641.53 79.99 L642.03 79.99 L642.53 79.99 L643.03 79.99 L643.53 79.99 L644.03 80 L644.53 80 L645.03 80 L645.53 80 L646.03 80 L646.53 80 L647.03 80 L647.53 80 L648.03 80 L648.52 80 L649.02 80 L649.52 80 L650.02 80 L650.52 80 L651.02 80 L651.52 80 L652.02 80 L652.52 80 L653.02 80 L653.52 80 L654.02 80 L654.52 80 L655.02 80 L655.52 80 L656.02 80 L656.52 80 L657.02 80 L657.52 80 L658.02 80 L658.52 80 L659.02 80 L659.52 80 L660.02 80 L660.52 80 L661.02 80 L661.52 80 L662.01 80 L662.51 80 L663.01 80 L663.51 80 L664.01 80 L664.51 80 L665.01 80 L665.51 80 L666.01 80 L666.51 80 L667.01 80 L667.51 80 L668.01 80 L668.51 80 L669.01 80 L669.51 80 L670.01 80 L670.51 80 L671.01 80 L671.51 80 L672.01 80 L672.51 80 L673.01 80 L673.51 80 L674.01 80 L674.51 80 L675 80 L675.5 80 L676 80 L676.5 80 L677 80 L677.5 80 L678 80 L678.5 80 L679 80 L679.5 80 L680 80 L680.5 80 L681 80 L681.5 80" fill="none" stroke="#1f76ee" stroke-width="1.5" stroke-linejoin="round" clip-path="url(#cb)"/>
<path d="M430.6 167.5 L431.1 167.37 L431.6 167.13 L432.1 166.83 L432.6 166.55 L433.1 166.27 L433.6 165.97 L434.1 165.64 L434.6 165.31 L435.09 164.96 L435.59 164.6 L436.09 164.21 L436.59 163.82 L437.09 163.42 L437.59 163.02 L438.09 162.63 L438.59 162.24 L439.09 161.85 L439.59 161.47 L440.09 161.08 L440.59 160.7 L441.09 160.33 L441.59 159.96 L442.09 159.59 L442.59 159.23 L443.09 158.88 L443.59 158.54 L444.09 158.22 L444.59 157.91 L445.09 157.61 L445.59 157.32 L446.09 157.03 L446.59 156.74 L447.09 156.45 L447.59 156.15 L448.09 155.84 L448.59 155.53 L449.09 155.23 L449.59 154.92 L450.09 154.61 L450.59 154.3 L451.09 153.99 L451.59 153.67 L452.09 153.36 L452.59 153.05 L453.09 152.74 L453.59 152.43 L454.09 152.12 L454.59 151.8 L455.09 151.49 L455.59 151.18 L456.09 150.87 L456.59 150.55 L457.09 150.23 L457.59 149.91 L458.09 149.59 L458.59 149.27 L459.09 148.95 L459.59 148.64 L460.09 148.32 L460.59 148.01 L461.08 147.71 L461.58 147.41 L462.08 147.11 L462.58 146.83 L463.08 146.55 L463.58 146.28 L464.08 146.02 L464.58 145.76 L465.08 145.5 L465.58 145.25 L466.08 145 L466.58 144.75 L467.08 144.51 L467.58 144.27 L468.08 144.03 L468.58 143.8 L469.08 143.57 L469.58 143.34 L470.08 143.12 L470.58 142.9 L471.08 142.68 L471.58 142.46 L472.08 142.24 L472.58 142.03 L473.08 141.82 L473.58 141.61 L474.08 141.4 L474.58 141.2 L475.08 141 L475.58 140.8 L476.08 140.61 L476.58 140.41 L477.08 140.22 L477.58 140.04 L478.08 139.85 L478.58 139.67 L479.08 139.49 L479.58 139.32 L480.08 139.14 L480.58 138.97 L481.08 138.8 L481.58 138.63 L482.08 138.47 L482.58 138.3 L483.08 138.14 L483.58 137.98 L484.08 137.83 L484.58 137.68 L485.08 137.53 L485.58 137.38 L486.08 137.24 L486.58 137.09 L487.07 136.96 L487.57 136.82 L488.07 136.69 L488.57 136.55 L489.07 136.42 L489.57 136.3 L490.07 136.17 L490.57 136.05 L491.07 135.93 L491.57 135.81 L492.07 135.69 L492.57 135.57 L493.07 135.46 L493.57 135.35 L494.07 135.24 L494.57 135.13 L495.07 135.03 L495.57 134.92 L496.07 134.82 L496.57 134.72 L497.07 134.62 L497.57 134.52 L498.07 134.42 L498.57 134.33 L499.07 134.24 L499.57 134.14 L500.07 134.05 L500.57 133.96 L501.07 133.88 L501.57 133.79 L502.07 133.7 L502.57 133.62 L503.07 133.54 L503.57 133.46 L504.07 133.39 L504.57 133.31 L505.07 133.24 L505.57 133.17 L506.07 133.09 L506.57 133.02 L507.07 132.94 L507.57 132.87 L508.07 132.79 L508.57 132.71 L509.07 132.62 L509.57 132.54 L510.07 132.44 L510.57 132.35 L511.07 132.25 L511.57 132.15 L512.07 132.05 L512.57 131.95 L513.06 131.86 L513.56 131.77 L514.06 131.69 L514.56 131.62 L515.06 131.55 L515.56 131.48 L516.06 131.42 L516.56 131.36 L517.06 131.3 L517.56 131.24 L518.06 131.18 L518.56 131.11 L519.06 131.05 L519.56 130.98 L520.06 130.9 L520.56 130.82 L521.06 130.73 L521.56 130.65 L522.06 130.56 L522.56 130.47 L523.06 130.39 L523.56 130.3 L524.06 130.22 L524.56 130.15 L525.06 130.08 L525.56 130.01 L526.06 129.95 L526.56 129.89 L527.06 129.83 L527.56 129.77 L528.06 129.72 L528.56 129.66 L529.06 129.6 L529.56 129.55 L530.06 129.49 L530.56 129.44 L531.06 129.38 L531.56 129.32 L532.06 129.27 L532.56 129.21 L533.06 129.15 L533.56 129.09 L534.06 129.04 L534.56 128.98 L535.06 128.92 L535.56 128.87 L536.06 128.81 L536.56 128.75 L537.06 128.7 L537.56 128.64 L538.06 128.59 L538.56 128.53 L539.05 128.48 L539.55 128.43 L540.05 128.38 L540.55 128.33 L541.05 128.28 L541.55 128.23 L542.05 128.18 L542.55 128.14 L543.05 128.09 L543.55 128.05 L544.05 128 L544.55 127.96 L545.05 127.92 L545.55 127.88 L546.05 127.84 L546.55 127.8 L547.05 127.76 L547.55 127.72 L548.05 127.68 L548.55 127.65 L549.05 127.61 L549.55 127.57 L550.05 127.53 L550.55 127.5 L551.05 127.46 L551.55 127.43 L552.05 127.39 L552.55 127.35 L553.05 127.32 L553.55 127.29 L554.05 127.25 L554.55 127.22 L555.05 127.18 L555.55 127.15 L556.05 127.12 L556.55 127.09 L557.05 127.05 L557.55 127.02 L558.05 126.99 L558.55 126.96 L559.05 126.93 L559.55 126.9 L560.05 126.87 L560.55 126.84 L561.05 126.81 L561.55 126.78 L562.05 126.75 L562.55 126.72 L563.05 126.69 L563.55 126.66 L564.05 126.63 L564.55 126.6 L565.04 126.57 L565.54 126.55 L566.04 126.52 L566.54 126.49 L567.04 126.46 L567.54 126.44 L568.04 126.41 L568.54 126.38 L569.04 126.35 L569.54 126.33 L570.04 126.3 L570.54 126.27 L571.04 126.25 L571.54 126.22 L572.04 126.19 L572.54 126.17 L573.04 126.14 L573.54 126.11 L574.04 126.09 L574.54 126.06 L575.04 126.03 L575.54 126.01 L576.04 125.98 L576.54 125.96 L577.04 125.93 L577.54 125.91 L578.04 125.88 L578.54 125.86 L579.04 125.83 L579.54 125.81 L580.04 125.78 L580.54 125.76 L581.04 125.74 L581.54 125.71 L582.04 125.69 L582.54 125.67 L583.04 125.64 L583.54 125.62 L584.04 125.6 L584.54 125.58 L585.04 125.56 L585.54 125.54 L586.04 125.52 L586.54 125.5 L587.04 125.48 L587.54 125.46 L588.04 125.44 L588.54 125.42 L589.04 125.4 L589.54 125.39 L590.04 125.37 L590.54 125.35 L591.03 125.34 L591.53 125.32 L592.03 125.31 L592.53 125.29 L593.03 125.28 L593.53 125.27 L594.03 125.25 L594.53 125.24 L595.03 125.22 L595.53 125.21 L596.03 125.2 L596.53 125.18 L597.03 125.17 L597.53 125.16 L598.03 125.15 L598.53 125.13 L599.03 125.12 L599.53 125.11 L600.03 125.1 L600.53 125.09 L601.03 125.07 L601.53 125.06 L602.03 125.05 L602.53 125.04 L603.03 125.03 L603.53 125.02 L604.03 125.01 L604.53 125 L605.03 124.99 L605.53 124.98 L606.03 124.97 L606.53 124.96 L607.03 124.95 L607.53 124.94 L608.03 124.93 L608.53 124.92 L609.03 124.91 L609.53 124.9 L610.03 124.89 L610.53 124.88 L611.03 124.88 L611.53 124.87 L612.03 124.86 L612.53 124.85 L613.03 124.84 L613.53 124.84 L614.03 124.83 L614.53 124.82 L615.03 124.82 L615.53 124.81 L616.03 124.8 L616.52 124.8 L617.02 124.79 L617.52 124.79 L618.02 124.78 L618.52 124.78 L619.02 124.77 L619.52 124.76 L620.02 124.76 L620.52 124.75 L621.02 124.75 L621.52 124.74 L622.02 124.74 L622.52 124.73 L623.02 124.73 L623.52 124.72 L624.02 124.72 L624.52 124.71 L625.02 124.71 L625.52 124.71 L626.02 124.7 L626.52 124.7 L627.02 124.69 L627.52 124.69 L628.02 124.68 L628.52 124.68 L629.02 124.68 L629.52 124.67 L630.02 124.67 L630.52 124.66 L631.02 124.66 L631.52 124.66 L632.02 124.65 L632.52 124.65 L633.02 124.65 L633.52 124.64 L634.02 124.64 L634.52 124.64 L635.02 124.63 L635.52 124.63 L636.02 124.63 L636.52 124.62 L637.02 124.62 L637.52 124.62 L638.02 124.61 L638.52 124.61 L639.02 124.61 L639.52 124.61 L640.02 124.6 L640.52 124.6 L641.02 124.6 L641.52 124.59 L642.02 124.59 L642.51 124.59 L643.01 124.59 L643.51 124.58 L644.01 124.58 L644.51 124.58 L645.01 124.57 L645.51 124.57 L646.01 124.57 L646.51 124.57 L647.01 124.56 L647.51 124.56 L648.01 124.56 L648.51 124.55 L649.01 124.55 L649.51 124.55 L650.01 124.55 L650.51 124.54 L651.01 124.54 L651.51 124.54 L652.01 124.54 L652.51 124.53 L653.01 124.53 L653.51 124.53 L654.01 124.53 L654.51 124.52 L655.01 124.52 L655.51 124.52 L656.01 124.52 L656.51 124.52 L657.01 124.51 L657.51 124.51 L658.01 124.51 L658.51 124.51 L659.01 124.51 L659.51 124.51 L660.01 124.51 L660.51 124.5 L661.01 124.5 L661.51 124.5 L662.01 124.5 L662.51 124.5 L663.01 124.5 L663.51 124.5 L664.01 124.5 L664.51 124.5 L665.01 124.5 L665.51 124.5 L666.01 124.5 L666.51 124.5 L667.01 124.5 L667.51 124.5 L668.01 124.5 L668.5 124.5 L669 124.5 L669.5 124.5 L670 124.5 L670.5 124.5 L671 124.5 L671.5 124.5 L672 124.5 L672.5 124.5 L673 124.5 L673.5 124.5 L674 124.5 L674.5 124.5 L675 124.5 L675.5 124.5 L676 124.5 L676.5 124.5 L677 124.5 L677.5 124.5 L678 124.5 L678.5 124.5 L679 124.5 L679.5 124.5 L680 124.5 L680.5 124.5 L681 124.5 L681.5 124.5" fill="none" stroke="#e0401c" stroke-width="1.5" stroke-linejoin="round" stroke-dasharray="7.4 4.7" stroke-dashoffset="6.51" clip-path="url(#cb)"/>
<path d="M417.6 92.7 L419.5 89 L421.3 85.4" fill="none" stroke="#e0401c" stroke-width="1.5" stroke-linejoin="round" clip-path="url(#cb)"/>
<path d="M421.3 85.4 L421.5 120 L421.6 158 L422.1 161.49 L422.6 162.98 L423.1 163.73 L423.6 164.32 L424.1 164.85 L424.6 165.3 L425.1 165.7 L425.6 166.07 L426.1 166.41 L426.6 166.7 L427.1 166.94 L427.6 167.16 L428.1 167.33 L428.6 167.41 L429.1 167.45 L429.6 167.48 L430.1 167.5 L430.6 167.5" fill="none" stroke="#e0401c" stroke-width="1.5" stroke-linejoin="round" stroke-dasharray="7.4 4.7" stroke-dashoffset="0.4" clip-path="url(#cb)"/>
<path d="M417.4 92.5 L417.5 130 L417.6 158.5 L418.1 159.71 L418.6 160.71 L419.1 161.34 L419.6 161.82 L420.09 162.23 L420.59 162.57 L421.09 162.87 L421.59 163.15 L422.09 163.44 L422.59 163.73 L423.09 164 L423.59 164.23 L424.09 164.4 L424.59 164.49 L425.08 164.5 L425.58 164.49 L426.08 164.46 L426.58 164.43 L427.08 164.39 L427.58 164.35 L428.08 164.29 L428.58 164.15 L429.08 163.89 L429.58 163.56 L430.07 163.18 L430.57 162.78 L431.07 162.39 L431.57 162.02 L432.07 161.61 L432.57 161.18 L433.07 160.73 L433.57 160.27 L434.07 159.81 L434.57 159.35 L435.06 158.87 L435.56 158.38 L436.06 157.89 L436.56 157.41 L437.06 156.94 L437.56 156.47 L438.06 156 L438.56 155.52 L439.06 155.06 L439.56 154.61 L440.05 154.2 L440.55 153.83 L441.05 153.51 L441.55 153.21 L442.05 152.93 L442.55 152.67 L443.05 152.44 L443.55 152.24 L444.05 152.09 L444.54 151.96 L445.04 151.85 L445.54 151.76 L446.04 151.67 L446.54 151.59 L447.04 151.51 L447.54 151.43 L448.04 151.34 L448.54 151.27 L449.04 151.2 L449.53 151.14 L450.03 151.07 L450.53 151 L451.03 150.93 L451.53 150.85 L452.03 150.76 L452.53 150.65 L453.03 150.51 L453.53 150.35 L454.03 150.18 L454.52 150 L455.02 149.83 L455.52 149.66 L456.02 149.5 L456.52 149.35 L457.02 149.2 L457.52 149.05 L458.02 148.9 L458.52 148.74 L459.02 148.57 L459.51 148.39 L460.01 148.19 L460.51 147.98 L461.01 147.73 L461.51 147.48 L462.01 147.21 L462.51 146.95 L463.01 146.7 L463.51 146.46 L464.01 146.22 L464.5 145.98 L465 145.74 L465.5 145.5 L466 145.26 L466.5 145.03 L467 144.8 L467.5 144.56 L468 144.34 L468.5 144.11 L468.99 143.88 L469.49 143.66 L469.99 143.45 L470.49 143.23 L470.99 143.02 L471.49 142.81 L471.99 142.6 L472.49 142.39 L472.99 142.19 L473.49 141.98 L473.98 141.78 L474.48 141.58 L474.98 141.39 L475.48 141.19 L475.98 141 L476.48 140.82 L476.98 140.63 L477.48 140.45 L477.98 140.28 L478.48 140.11 L478.97 139.94 L479.47 139.77 L479.97 139.61 L480.47 139.45 L480.97 139.29 L481.47 139.13 L481.97 138.98 L482.47 138.83 L482.97 138.68 L483.47 138.53 L483.96 138.39 L484.46 138.25 L484.96 138.12 L485.46 137.99 L485.96 137.86 L486.46 137.74 L486.96 137.62 L487.46 137.5 L487.96 137.38 L488.46 137.27 L488.95 137.16 L489.45 137.05 L489.95 136.95 L490.45 136.84 L490.95 136.74 L491.45 136.64 L491.95 136.54 L492.45 136.45 L492.95 136.36 L493.44 136.26 L493.94 136.17 L494.44 136.09 L494.94 136 L495.44 135.92 L495.94 135.83 L496.44 135.75 L496.94 135.67 L497.44 135.6 L497.94 135.52 L498.43 135.44 L498.93 135.37 L499.43 135.3 L499.93 135.22 L500.43 135.15 L500.93 135.08 L501.43 135.01 L501.93 134.94 L502.43 134.87 L502.93 134.81 L503.42 134.74 L503.92 134.68 L504.42 134.62 L504.92 134.56 L505.42 134.5 L505.92 134.43 L506.42 134.37 L506.92 134.31 L507.42 134.25 L507.92 134.18 L508.41 134.11 L508.91 134.04 L509.41 133.97 L509.91 133.89 L510.41 133.8 L510.91 133.71 L511.41 133.62 L511.91 133.53 L512.41 133.46 L512.91 133.4 L513.4 133.35 L513.9 133.3 L514.4 133.26 L514.9 133.23 L515.4 133.2 L515.5 240 L517.75 240 L517.75 164 L517.85 233.5 L517.9 233.5 L518.4 232.89 L518.9 232.28 L519.4 231.69 L519.9 231.1 L520.39 230.48 L520.89 229.83 L521.39 229.15 L521.89 228.46 L522.39 227.78 L522.89 227.11 L523.39 226.44 L523.89 225.76 L524.38 225.1 L524.88 224.47 L525.38 223.87 L525.88 223.3 L526.38 222.76 L526.88 222.23 L527.38 221.69 L527.88 221.14 L528.37 220.56 L528.87 219.94 L529.37 219.32 L529.87 218.74 L530.37 218.24 L530.87 217.78 L531.37 217.36 L531.87 216.96 L532.36 216.58 L532.86 216.21 L533.36 215.85 L533.86 215.48 L534.36 215.11 L534.86 214.72 L535.36 214.32 L535.86 213.93 L536.35 213.56 L536.85 213.23 L537.35 212.94 L537.85 212.67 L538.35 212.41 L538.85 212.18 L539.35 211.94 L539.85 211.71 L540.35 211.47 L540.84 211.23 L541.34 210.97 L541.84 210.72 L542.34 210.46 L542.84 210.21 L543.34 209.97 L543.84 209.74 L544.34 209.51 L544.83 209.3 L545.33 209.08 L545.83 208.87 L546.33 208.66 L546.83 208.46 L547.33 208.26 L547.83 208.06 L548.33 207.87 L548.82 207.68 L549.32 207.5 L549.82 207.32 L550.32 207.15 L550.82 206.98 L551.32 206.81 L551.82 206.65 L552.32 206.48 L552.81 206.33 L553.31 206.17 L553.81 206.02 L554.31 205.86 L554.81 205.71 L555.31 205.56 L555.81 205.42 L556.31 205.27 L556.8 205.12 L557.3 204.97 L557.8 204.82 L558.3 204.67 L558.8 204.53 L559.3 204.38 L559.8 204.24 L560.3 204.1 L560.8 203.96 L561.29 203.82 L561.79 203.68 L562.29 203.54 L562.79 203.4 L563.29 203.26 L563.79 203.12 L564.29 202.99 L564.79 202.85 L565.28 202.71 L565.78 202.58 L566.28 202.44 L566.78 202.31 L567.28 202.17 L567.78 202.04 L568.28 201.91 L568.78 201.77 L569.27 201.64 L569.77 201.51 L570.27 201.38 L570.77 201.25 L571.27 201.12 L571.77 200.99 L572.27 200.86 L572.77 200.73 L573.26 200.61 L573.76 200.48 L574.26 200.36 L574.76 200.24 L575.26 200.11 L575.76 199.99 L576.26 199.87 L576.76 199.75 L577.25 199.63 L577.75 199.51 L578.25 199.39 L578.75 199.27 L579.25 199.15 L579.75 199.04 L580.25 198.92 L580.75 198.81 L581.25 198.7 L581.74 198.59 L582.24 198.48 L582.74 198.37 L583.24 198.26 L583.74 198.16 L584.24 198.05 L584.74 197.94 L585.24 197.84 L585.73 197.74 L586.23 197.63 L586.73 197.53 L587.23 197.43 L587.73 197.33 L588.23 197.23 L588.73 197.14 L589.23 197.04 L589.72 196.95 L590.22 196.86 L590.72 196.77 L591.22 196.68 L591.72 196.59 L592.22 196.51 L592.72 196.43 L593.22 196.35 L593.71 196.27 L594.21 196.19 L594.71 196.11 L595.21 196.04 L595.71 195.96 L596.21 195.89 L596.71 195.81 L597.21 195.74 L597.7 195.66 L598.2 195.59 L598.7 195.51 L599.2 195.43 L599.7 195.35 L600.2 195.27 L600.7 195.18 L601.2 195.1 L601.7 195.01 L602.19 194.92 L602.69 194.83 L603.19 194.74 L603.69 194.65 L604.19 194.56 L604.69 194.47 L605.19 194.38 L605.69 194.29 L606.18 194.21 L606.68 194.12 L607.18 194.04 L607.68 193.96 L608.18 193.89 L608.68 193.81 L609.18 193.74 L609.68 193.67 L610.17 193.6 L610.67 193.53 L611.17 193.46 L611.67 193.4 L612.17 193.33 L612.67 193.26 L613.17 193.2 L613.67 193.13 L614.16 193.07 L614.66 193.01 L615.16 192.95 L615.66 192.88 L616.16 192.82 L616.66 192.76 L617.16 192.7 L617.66 192.64 L618.15 192.58 L618.65 192.52 L619.15 192.46 L619.65 192.4 L620.15 192.34 L620.65 192.28 L621.15 192.22 L621.65 192.16 L622.15 192.1 L622.64 192.04 L623.14 191.98 L623.64 191.92 L624.14 191.86 L624.64 191.8 L625.14 191.74 L625.64 191.69 L626.14 191.63 L626.63 191.57 L627.13 191.51 L627.63 191.46 L628.13 191.4 L628.63 191.34 L629.13 191.29 L629.63 191.23 L630.13 191.17 L630.62 191.12 L631.12 191.06 L631.62 191.01 L632.12 190.95 L632.62 190.9 L633.12 190.84 L633.62 190.79 L634.12 190.73 L634.61 190.68 L635.11 190.62 L635.61 190.57 L636.11 190.51 L636.61 190.46 L637.11 190.4 L637.61 190.35 L638.11 190.29 L638.6 190.24 L639.1 190.18 L639.6 190.13 L640.1 190.08 L640.6 190.02 L641.1 189.97 L641.6 189.92 L642.1 189.86 L642.6 189.81 L643.09 189.76 L643.59 189.71 L644.09 189.65 L644.59 189.6 L645.09 189.55 L645.59 189.5 L646.09 189.45 L646.59 189.4 L647.08 189.35 L647.58 189.3 L648.08 189.25 L648.58 189.2 L649.08 189.16 L649.58 189.11 L650.08 189.06 L650.58 189.01 L651.07 188.96 L651.57 188.92 L652.07 188.87 L652.57 188.82 L653.07 188.78 L653.57 188.73 L654.07 188.68 L654.57 188.64 L655.06 188.59 L655.56 188.55 L656.06 188.5 L656.56 188.46 L657.06 188.41 L657.56 188.37 L658.06 188.33 L658.56 188.28 L659.05 188.24 L659.55 188.2 L660.05 188.15 L660.55 188.11 L661.05 188.07 L661.55 188.03 L662.05 187.99 L662.55 187.95 L663.05 187.91 L663.54 187.87 L664.04 187.83 L664.54 187.79 L665.04 187.76 L665.54 187.72 L666.04 187.68 L666.54 187.64 L667.04 187.61 L667.53 187.57 L668.03 187.53 L668.53 187.49 L669.03 187.46 L669.53 187.42 L670.03 187.38 L670.53 187.35 L671.03 187.31 L671.52 187.27 L672.02 187.24 L672.52 187.2 L673.02 187.16 L673.52 187.12 L674.02 187.08 L674.52 187.04 L675.02 187.01 L675.51 186.97 L676.01 186.93 L676.51 186.89 L677.01 186.85 L677.51 186.81 L678.01 186.77 L678.51 186.73 L679.01 186.7 L679.5 186.66 L680 186.62 L680.5 186.58 L681 186.54 L681.5 186.5" fill="none" stroke="#edb120" stroke-width="1.5" stroke-linejoin="round" stroke-dasharray="6 2.1 1.8 2.1" stroke-dashoffset="4.28" clip-path="url(#cb)"/>
<text x="169.13" y="21.02" font-size="22.94" font-weight="bold" textLength="28.44" lengthAdjust="spacingAndGlyphs" fill="#000">(a)</text>
<text x="533.51" y="20.04" font-size="22.83" font-weight="bold" textLength="30.39" lengthAdjust="spacingAndGlyphs" fill="#000">(b)</text>
<text x="21.22" y="61.89" font-size="16.45" textLength="16.82" lengthAdjust="spacingAndGlyphs" fill="#000">10</text>
<rect x="38" y="53.07" width="7.5" height="0.65" fill="#000"/>
<text x="45.95" y="55.55" font-size="11.25">4</text>
<text x="21.21" y="150.54" font-size="16.45" textLength="16.93" lengthAdjust="spacingAndGlyphs" fill="#000">10</text>
<rect x="38" y="141.73" width="7.5" height="0.65" fill="#000"/>
<text x="46.41" y="144.2" font-size="11.25">6</text>
<text x="21.21" y="239.24" font-size="16.45" textLength="16.93" lengthAdjust="spacingAndGlyphs" fill="#000">10</text>
<rect x="38.2" y="230.43" width="7.4" height="0.65" fill="#000"/>
<text x="46.61" y="232.9" font-size="11.25">8</text>
<text x="381.31" y="38.54" font-size="16.45" textLength="16.93" lengthAdjust="spacingAndGlyphs" fill="#000">10</text>
<rect x="399" y="29.73" width="7.2" height="0.65" fill="#000"/>
<text x="407.2" y="32.2" font-size="11.25">2</text>
<text x="381.31" y="137.04" font-size="16.45" textLength="16.93" lengthAdjust="spacingAndGlyphs" fill="#000">10</text>
<rect x="399" y="128.23" width="7.2" height="0.65" fill="#000"/>
<text x="406.45" y="130.7" font-size="11.25">4</text>
<text x="381.31" y="235.54" font-size="16.45" textLength="16.93" lengthAdjust="spacingAndGlyphs" fill="#000">10</text>
<rect x="399" y="226.73" width="7.2" height="0.65" fill="#000"/>
<text x="406.71" y="229.2" font-size="11.25">6</text>
<text x="53.04" y="253.3" font-size="16.89" textLength="8.73" lengthAdjust="spacingAndGlyphs" fill="#000">0</text>
<text x="178.26" y="253.3" font-size="16.89" textLength="20.89" lengthAdjust="spacingAndGlyphs" fill="#000">0.5</text>
<text x="316.2" y="253.3" font-size="16.89" textLength="9.09" lengthAdjust="spacingAndGlyphs" fill="#000">1</text>
<text x="412.81" y="253.3" font-size="16.89" textLength="9.08" lengthAdjust="spacingAndGlyphs" fill="#000">0</text>
<text x="538.87" y="253.3" font-size="16.89" textLength="20.68" lengthAdjust="spacingAndGlyphs" fill="#000">0.5</text>
<text x="677.33" y="253.3" font-size="16.89" textLength="7.81" lengthAdjust="spacingAndGlyphs" fill="#000">1</text>
<text x="184.73" y="274.71" font-size="19.9" font-style="italic" textLength="6.78" lengthAdjust="spacingAndGlyphs" fill="#000">t</text>
<text x="545.88" y="274.71" font-size="19.9" font-style="italic" textLength="6.46" lengthAdjust="spacingAndGlyphs" fill="#000">t</text>
<rect x="0.2" y="184.88" width="17.4" height="0.95" fill="#000"/>
<rect x="0.2" y="188.18" width="17.4" height="0.95" fill="#000"/>
<rect x="0.2" y="113.43" width="17.4" height="0.95" fill="#000"/>
<rect x="0.2" y="116.88" width="17.4" height="0.95" fill="#000"/>
<rect x="8.35" y="141.5" width="0.9" height="10.4" fill="#000"/>
<rect x="360.3" y="186.43" width="17.7" height="0.95" fill="#000"/>
<rect x="360.3" y="189.93" width="17.7" height="0.95" fill="#000"/>
<rect x="360.3" y="111.98" width="17.7" height="0.95" fill="#000"/>
<rect x="360.3" y="115.43" width="17.7" height="0.95" fill="#000"/>
<rect x="369.05" y="151.8" width="0.9" height="10.5" fill="#000"/>
<path d="M362.6,137.2 C363.4,140.3 366,141.8 372.3,144.5 M372.3,144.5 L373.8,146.2" fill="none" stroke="#000" stroke-width="1.1" stroke-linecap="round"/>
<path d="M372.3,144.5 C373.5,142.3 373.5,138.8 371.5,135.6" fill="none" stroke="#000" stroke-width="1.45" stroke-linecap="round"/>
<path d="M362.9,136.0 C361.4,136.3 361.4,138.3 362.8,138.3 C363.9,138.2 364.3,137.2 363.9,136.4" fill="#000" stroke="#000" stroke-width="0.6"/>
<g transform="rotate(-90)"><text x="-181.3" y="13.33" font-size="17.25" font-style="italic" textLength="8.52" lengthAdjust="spacingAndGlyphs" fill="#000">p</text><text x="-172.86" y="16.01" font-size="8.97" textLength="14.46" lengthAdjust="spacingAndGlyphs" fill="#000">ref</text><text x="-134.62" y="13.33" font-size="17.25" font-style="italic" textLength="8.33" lengthAdjust="spacingAndGlyphs" fill="#000">p</text><text x="-127.9" y="16.2" font-size="10.98" font-weight="bold" textLength="6.62" lengthAdjust="spacingAndGlyphs" fill="#000">r</text><text x="-110.22" y="16.7" font-size="12.83" font-style="italic" textLength="8.76" lengthAdjust="spacingAndGlyphs" fill="#000">L</text><text x="-102.07" y="12.6" font-size="7.4" textLength="4.24" lengthAdjust="spacingAndGlyphs" fill="#000">2</text><text x="-95.92" y="16.69" font-size="14.12" textLength="16.53" lengthAdjust="spacingAndGlyphs" fill="#000">(Ω)</text><text x="-182.98" y="373.7" font-size="17.37" font-style="italic" textLength="7.86" lengthAdjust="spacingAndGlyphs" fill="#000">ṗ</text><text x="-176.67" y="376.7" font-size="10.13" font-weight="bold" textLength="6.17" lengthAdjust="spacingAndGlyphs" fill="#000">r</text><text x="-133.4" y="374.16" font-size="15.2" font-style="italic" textLength="8.52" lengthAdjust="spacingAndGlyphs" fill="#000">p</text><text x="-126.48" y="376.7" font-size="10.13" font-weight="bold" textLength="6.28" lengthAdjust="spacingAndGlyphs" fill="#000">r</text><text x="-107.65" y="377" font-size="13.29" font-style="italic" textLength="7.16" lengthAdjust="spacingAndGlyphs" fill="#000">L</text><text x="-100.97" y="373.2" font-size="8.31" textLength="4.24" lengthAdjust="spacingAndGlyphs" fill="#000">2</text><text x="-94.63" y="377.17" font-size="13.79" textLength="16.85" lengthAdjust="spacingAndGlyphs" fill="#000">(Ω)</text></g>
<line x1="94.4" y1="318.7" x2="119.9" y2="318.7" stroke="#1f76ee" stroke-width="1.8"/>
<line x1="219.3" y1="318.8" x2="245.2" y2="318.8" stroke="#e0401c" stroke-width="1.8" stroke-dasharray="10.2 5.6"/>
<line x1="393.8" y1="318.8" x2="418.1" y2="318.8" stroke="#edb120" stroke-width="1.8" stroke-dasharray="8.2 2.9 2.1 2.9"/>
<text x="122.28" y="321.9" font-size="13.91" textLength="90.73" lengthAdjust="spacingAndGlyphs" fill="#000">constant rank,</text>
<text x="247.24" y="321.9" font-size="13.91" textLength="54.12" lengthAdjust="spacingAndGlyphs" fill="#000">adaptive</text>
<text x="305.57" y="321.9" font-size="13.91" font-style="italic" textLength="5.77" lengthAdjust="spacingAndGlyphs" fill="#000">ϵ</text>
<text x="311.88" y="324.2" font-size="9.82" textLength="13.05" lengthAdjust="spacingAndGlyphs" fill="#000">inc</text>
<rect x="330" y="316.98" width="9.5" height="0.75" fill="#000"/>
<rect x="330" y="319.88" width="9.5" height="0.75" fill="#000"/>
<text x="344.15" y="321.9" font-size="13.91" textLength="7.67" lengthAdjust="spacingAndGlyphs" fill="#000">1</text>
<text x="351.54" y="321.9" font-size="13.91" font-style="italic" textLength="6.7" lengthAdjust="spacingAndGlyphs" fill="#000">e</text>
<rect x="362.6" y="318.12" width="8.8" height="0.75" fill="#000"/>
<text x="375.36" y="321.9" font-size="13.91" textLength="11.62" lengthAdjust="spacingAndGlyphs" fill="#000">3,</text>
<text x="421.64" y="321.9" font-size="13.91" textLength="54.01" lengthAdjust="spacingAndGlyphs" fill="#000">adaptive</text>
<text x="480.2" y="321.9" font-size="13.91" font-style="italic" textLength="5.47" lengthAdjust="spacingAndGlyphs" fill="#000">ϵ</text>
<text x="486.18" y="324.2" font-size="9.82" textLength="12.95" lengthAdjust="spacingAndGlyphs" fill="#000">inc</text>
<rect x="504.3" y="316.98" width="9.5" height="0.75" fill="#000"/>
<rect x="504.3" y="319.88" width="9.5" height="0.75" fill="#000"/>
<text x="518.63" y="321.9" font-size="13.91" textLength="7.24" lengthAdjust="spacingAndGlyphs" fill="#000">1</text>
<text x="525.97" y="321.9" font-size="13.91" font-style="italic" textLength="6.25" lengthAdjust="spacingAndGlyphs" fill="#000">e</text>
<rect x="537" y="318.12" width="8.8" height="0.75" fill="#000"/>
<text x="549.82" y="321.9" font-size="13.91" textLength="7.1" lengthAdjust="spacingAndGlyphs" fill="#000">4</text>
</svg>
</body></html>
